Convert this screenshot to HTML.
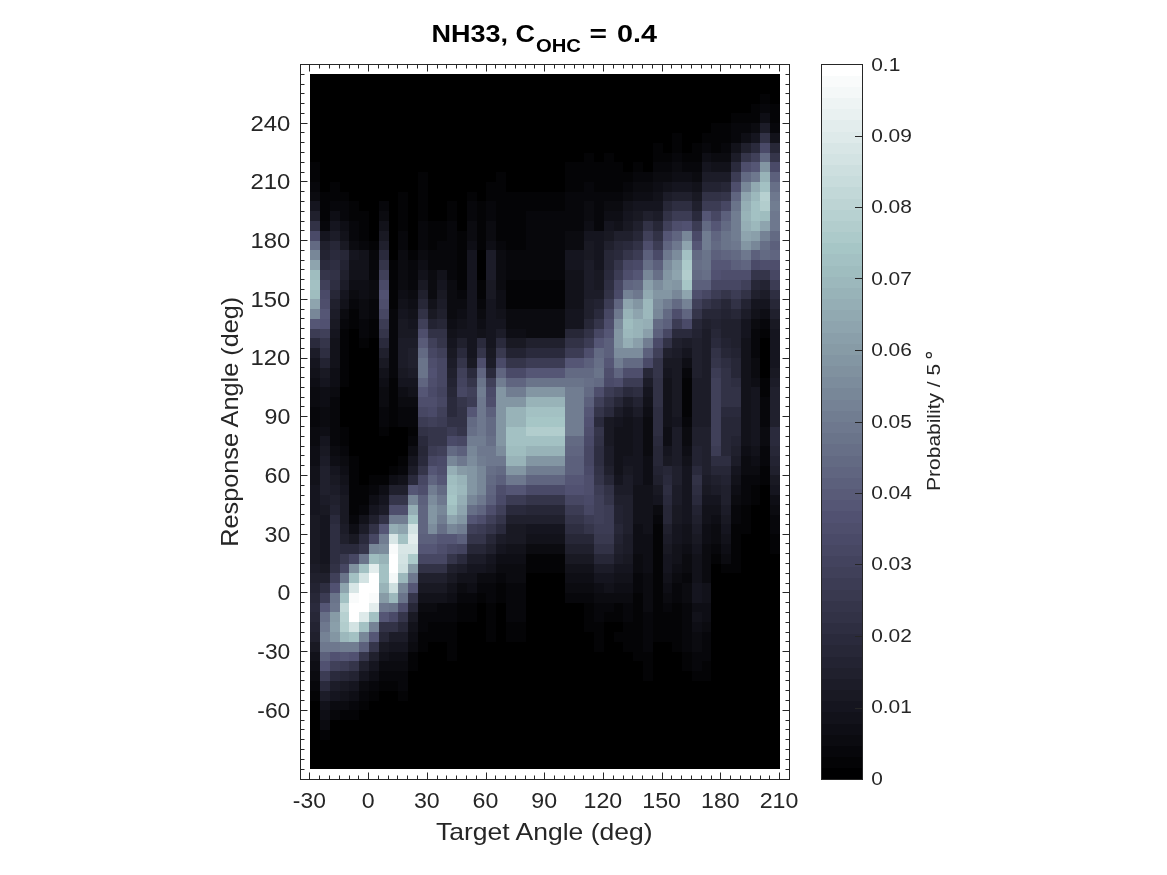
<!DOCTYPE html><html><head><meta charset="utf-8"><style>html,body{margin:0;padding:0;background:#fff;width:1167px;height:875px;overflow:hidden}</style></head><body><svg width="1167" height="875" viewBox="0 0 1167 875" style="position:absolute;left:0;top:0;will-change:transform">
<rect x="0" y="0" width="1167" height="875" fill="#ffffff"/>
<g shape-rendering="crispEdges">
<rect x="310.29" y="74.28" width="469.68" height="694.74" fill="#000000"/>
<rect x="760.39" y="93.86" width="9.79" height="9.78" fill="#040406"/>
<rect x="750.61" y="103.64" width="9.78" height="9.79" fill="#040406"/>
<rect x="760.39" y="103.64" width="9.79" height="9.79" fill="#07070b"/>
<rect x="770.18" y="103.64" width="9.78" height="9.79" fill="#040406"/>
<rect x="731.04" y="113.43" width="29.36" height="9.78" fill="#040406"/>
<rect x="760.39" y="113.43" width="9.79" height="9.78" fill="#0e0e15"/>
<rect x="770.18" y="113.43" width="9.78" height="9.78" fill="#040406"/>
<rect x="711.47" y="123.21" width="19.57" height="9.78" fill="#040406"/>
<rect x="731.04" y="123.21" width="19.57" height="9.78" fill="#07070b"/>
<rect x="750.61" y="123.21" width="9.78" height="9.78" fill="#0b0b10"/>
<rect x="760.39" y="123.21" width="9.79" height="9.78" fill="#1c1c28"/>
<rect x="770.18" y="123.21" width="9.78" height="9.78" fill="#07070b"/>
<rect x="672.33" y="133.00" width="9.78" height="9.78" fill="#040406"/>
<rect x="701.68" y="133.00" width="29.36" height="9.78" fill="#040406"/>
<rect x="731.04" y="133.00" width="9.79" height="9.78" fill="#07070b"/>
<rect x="740.83" y="133.00" width="9.78" height="9.78" fill="#0e0e15"/>
<rect x="750.61" y="133.00" width="9.78" height="9.78" fill="#15151f"/>
<rect x="760.39" y="133.00" width="9.79" height="9.78" fill="#323246"/>
<rect x="770.18" y="133.00" width="9.78" height="9.78" fill="#12121a"/>
<rect x="652.76" y="142.78" width="9.79" height="9.78" fill="#040406"/>
<rect x="672.33" y="142.78" width="9.78" height="9.78" fill="#040406"/>
<rect x="691.90" y="142.78" width="9.78" height="9.78" fill="#040406"/>
<rect x="701.68" y="142.78" width="9.79" height="9.78" fill="#07070b"/>
<rect x="711.47" y="142.78" width="9.78" height="9.78" fill="#040406"/>
<rect x="721.25" y="142.78" width="9.78" height="9.78" fill="#07070b"/>
<rect x="731.04" y="142.78" width="9.79" height="9.78" fill="#12121a"/>
<rect x="740.83" y="142.78" width="9.78" height="9.78" fill="#20202d"/>
<rect x="750.61" y="142.78" width="9.78" height="9.78" fill="#2a2a3c"/>
<rect x="760.39" y="142.78" width="9.79" height="9.78" fill="#4a4a68"/>
<rect x="770.18" y="142.78" width="9.78" height="9.78" fill="#272737"/>
<rect x="584.26" y="152.56" width="9.78" height="9.79" fill="#040406"/>
<rect x="603.84" y="152.56" width="9.78" height="9.79" fill="#040406"/>
<rect x="652.76" y="152.56" width="19.57" height="9.79" fill="#040406"/>
<rect x="672.33" y="152.56" width="9.78" height="9.79" fill="#07070b"/>
<rect x="682.12" y="152.56" width="19.57" height="9.79" fill="#040406"/>
<rect x="701.68" y="152.56" width="9.79" height="9.79" fill="#0e0e15"/>
<rect x="711.47" y="152.56" width="19.57" height="9.79" fill="#0b0b10"/>
<rect x="731.04" y="152.56" width="9.79" height="9.79" fill="#1c1c28"/>
<rect x="740.83" y="152.56" width="9.78" height="9.79" fill="#35354a"/>
<rect x="750.61" y="152.56" width="9.78" height="9.79" fill="#404059"/>
<rect x="760.39" y="152.56" width="9.79" height="9.79" fill="#636a83"/>
<rect x="770.18" y="152.56" width="9.78" height="9.79" fill="#35354a"/>
<rect x="310.29" y="162.35" width="9.78" height="9.78" fill="#040406"/>
<rect x="564.69" y="162.35" width="58.71" height="9.78" fill="#040406"/>
<rect x="633.19" y="162.35" width="9.78" height="9.78" fill="#040406"/>
<rect x="652.76" y="162.35" width="19.57" height="9.78" fill="#07070b"/>
<rect x="672.33" y="162.35" width="9.78" height="9.78" fill="#0b0b10"/>
<rect x="682.12" y="162.35" width="19.57" height="9.78" fill="#07070b"/>
<rect x="701.68" y="162.35" width="9.79" height="9.78" fill="#15151f"/>
<rect x="711.47" y="162.35" width="19.57" height="9.78" fill="#12121a"/>
<rect x="731.04" y="162.35" width="9.79" height="9.78" fill="#2a2a3c"/>
<rect x="740.83" y="162.35" width="9.78" height="9.78" fill="#4e4e6c"/>
<rect x="750.61" y="162.35" width="9.78" height="9.78" fill="#555675"/>
<rect x="760.39" y="162.35" width="9.79" height="9.78" fill="#8396a3"/>
<rect x="770.18" y="162.35" width="9.78" height="9.78" fill="#4a4a68"/>
<rect x="310.29" y="172.13" width="9.78" height="9.79" fill="#040406"/>
<rect x="417.92" y="172.13" width="9.78" height="9.79" fill="#040406"/>
<rect x="496.20" y="172.13" width="9.78" height="9.79" fill="#040406"/>
<rect x="564.69" y="172.13" width="68.50" height="9.79" fill="#040406"/>
<rect x="633.19" y="172.13" width="19.57" height="9.79" fill="#07070b"/>
<rect x="652.76" y="172.13" width="19.57" height="9.79" fill="#0b0b10"/>
<rect x="672.33" y="172.13" width="19.57" height="9.79" fill="#0e0e15"/>
<rect x="691.90" y="172.13" width="9.78" height="9.79" fill="#0b0b10"/>
<rect x="701.68" y="172.13" width="29.36" height="9.79" fill="#1c1c28"/>
<rect x="731.04" y="172.13" width="9.79" height="9.79" fill="#3c3c54"/>
<rect x="740.83" y="172.13" width="9.78" height="9.79" fill="#636a83"/>
<rect x="750.61" y="172.13" width="9.78" height="9.79" fill="#6e788e"/>
<rect x="760.39" y="172.13" width="9.79" height="9.79" fill="#98b3b8"/>
<rect x="770.18" y="172.13" width="9.78" height="9.79" fill="#5c607c"/>
<rect x="310.29" y="181.92" width="9.78" height="9.78" fill="#07070b"/>
<rect x="329.86" y="181.92" width="9.78" height="9.78" fill="#040406"/>
<rect x="417.92" y="181.92" width="9.78" height="9.78" fill="#040406"/>
<rect x="486.42" y="181.92" width="19.57" height="9.78" fill="#040406"/>
<rect x="564.69" y="181.92" width="19.57" height="9.78" fill="#040406"/>
<rect x="584.26" y="181.92" width="9.78" height="9.78" fill="#07070b"/>
<rect x="594.05" y="181.92" width="29.36" height="9.78" fill="#040406"/>
<rect x="623.40" y="181.92" width="9.79" height="9.78" fill="#07070b"/>
<rect x="633.19" y="181.92" width="19.57" height="9.78" fill="#0b0b10"/>
<rect x="652.76" y="181.92" width="9.79" height="9.78" fill="#0e0e15"/>
<rect x="662.55" y="181.92" width="9.78" height="9.78" fill="#12121a"/>
<rect x="672.33" y="181.92" width="19.57" height="9.78" fill="#15151f"/>
<rect x="691.90" y="181.92" width="9.78" height="9.78" fill="#12121a"/>
<rect x="701.68" y="181.92" width="19.57" height="9.78" fill="#232332"/>
<rect x="721.25" y="181.92" width="9.78" height="9.78" fill="#272737"/>
<rect x="731.04" y="181.92" width="9.79" height="9.78" fill="#4e4e6c"/>
<rect x="740.83" y="181.92" width="9.78" height="9.78" fill="#788798"/>
<rect x="750.61" y="181.92" width="9.78" height="9.78" fill="#91a9b1"/>
<rect x="760.39" y="181.92" width="9.79" height="9.78" fill="#a3c1c3"/>
<rect x="770.18" y="181.92" width="9.78" height="9.78" fill="#676f87"/>
<rect x="310.29" y="191.70" width="9.78" height="9.79" fill="#0b0b10"/>
<rect x="320.07" y="191.70" width="29.36" height="9.79" fill="#040406"/>
<rect x="398.35" y="191.70" width="9.78" height="9.79" fill="#040406"/>
<rect x="417.92" y="191.70" width="9.78" height="9.79" fill="#040406"/>
<rect x="466.85" y="191.70" width="9.78" height="9.79" fill="#040406"/>
<rect x="486.42" y="191.70" width="78.28" height="9.79" fill="#040406"/>
<rect x="564.69" y="191.70" width="58.71" height="9.79" fill="#07070b"/>
<rect x="623.40" y="191.70" width="9.79" height="9.79" fill="#0b0b10"/>
<rect x="633.19" y="191.70" width="19.57" height="9.79" fill="#0e0e15"/>
<rect x="652.76" y="191.70" width="9.79" height="9.79" fill="#12121a"/>
<rect x="662.55" y="191.70" width="9.78" height="9.79" fill="#1c1c28"/>
<rect x="672.33" y="191.70" width="19.57" height="9.79" fill="#20202d"/>
<rect x="691.90" y="191.70" width="9.78" height="9.79" fill="#191923"/>
<rect x="701.68" y="191.70" width="19.57" height="9.79" fill="#323246"/>
<rect x="721.25" y="191.70" width="9.78" height="9.79" fill="#35354a"/>
<rect x="731.04" y="191.70" width="9.79" height="9.79" fill="#606580"/>
<rect x="740.83" y="191.70" width="9.78" height="9.79" fill="#8ea4ae"/>
<rect x="750.61" y="191.70" width="9.78" height="9.79" fill="#9cb8bc"/>
<rect x="760.39" y="191.70" width="9.79" height="9.79" fill="#b7d1d1"/>
<rect x="770.18" y="191.70" width="9.78" height="9.79" fill="#6e788e"/>
<rect x="310.29" y="201.49" width="9.78" height="9.78" fill="#15151f"/>
<rect x="320.07" y="201.49" width="9.79" height="9.78" fill="#040406"/>
<rect x="329.86" y="201.49" width="19.57" height="9.78" fill="#07070b"/>
<rect x="349.43" y="201.49" width="9.78" height="9.78" fill="#040406"/>
<rect x="378.78" y="201.49" width="9.79" height="9.78" fill="#07070b"/>
<rect x="398.35" y="201.49" width="9.78" height="9.78" fill="#040406"/>
<rect x="417.92" y="201.49" width="9.78" height="9.78" fill="#040406"/>
<rect x="447.27" y="201.49" width="9.79" height="9.78" fill="#040406"/>
<rect x="466.85" y="201.49" width="9.78" height="9.78" fill="#07070b"/>
<rect x="476.63" y="201.49" width="9.79" height="9.78" fill="#040406"/>
<rect x="486.42" y="201.49" width="9.79" height="9.78" fill="#07070b"/>
<rect x="496.20" y="201.49" width="68.49" height="9.78" fill="#040406"/>
<rect x="564.69" y="201.49" width="19.57" height="9.78" fill="#07070b"/>
<rect x="584.26" y="201.49" width="9.78" height="9.78" fill="#0b0b10"/>
<rect x="594.05" y="201.49" width="9.79" height="9.78" fill="#07070b"/>
<rect x="603.84" y="201.49" width="19.57" height="9.78" fill="#0b0b10"/>
<rect x="623.40" y="201.49" width="9.79" height="9.78" fill="#12121a"/>
<rect x="633.19" y="201.49" width="29.36" height="9.78" fill="#15151f"/>
<rect x="662.55" y="201.49" width="9.78" height="9.78" fill="#272737"/>
<rect x="672.33" y="201.49" width="19.57" height="9.78" fill="#2e2e41"/>
<rect x="691.90" y="201.49" width="9.78" height="9.78" fill="#20202d"/>
<rect x="701.68" y="201.49" width="19.57" height="9.78" fill="#3c3c54"/>
<rect x="721.25" y="201.49" width="9.78" height="9.78" fill="#474763"/>
<rect x="731.04" y="201.49" width="9.79" height="9.78" fill="#6a748a"/>
<rect x="740.83" y="201.49" width="9.78" height="9.78" fill="#95aeb5"/>
<rect x="750.61" y="201.49" width="9.78" height="9.78" fill="#a3c1c3"/>
<rect x="760.39" y="201.49" width="9.79" height="9.78" fill="#b2cdcd"/>
<rect x="770.18" y="201.49" width="9.78" height="9.78" fill="#717d91"/>
<rect x="310.29" y="211.28" width="9.78" height="9.78" fill="#20202d"/>
<rect x="320.07" y="211.28" width="9.79" height="9.78" fill="#040406"/>
<rect x="329.86" y="211.28" width="9.78" height="9.78" fill="#0e0e15"/>
<rect x="339.64" y="211.28" width="9.79" height="9.78" fill="#07070b"/>
<rect x="349.43" y="211.28" width="19.57" height="9.78" fill="#040406"/>
<rect x="378.78" y="211.28" width="9.79" height="9.78" fill="#0b0b10"/>
<rect x="398.35" y="211.28" width="9.78" height="9.78" fill="#040406"/>
<rect x="417.92" y="211.28" width="9.78" height="9.78" fill="#040406"/>
<rect x="447.27" y="211.28" width="9.79" height="9.78" fill="#040406"/>
<rect x="466.85" y="211.28" width="9.78" height="9.78" fill="#07070b"/>
<rect x="476.63" y="211.28" width="9.79" height="9.78" fill="#040406"/>
<rect x="486.42" y="211.28" width="9.79" height="9.78" fill="#07070b"/>
<rect x="496.20" y="211.28" width="29.36" height="9.78" fill="#040406"/>
<rect x="525.56" y="211.28" width="58.71" height="9.78" fill="#07070b"/>
<rect x="584.26" y="211.28" width="9.78" height="9.78" fill="#0b0b10"/>
<rect x="594.05" y="211.28" width="9.79" height="9.78" fill="#07070b"/>
<rect x="603.84" y="211.28" width="19.57" height="9.78" fill="#0e0e15"/>
<rect x="623.40" y="211.28" width="9.79" height="9.78" fill="#15151f"/>
<rect x="633.19" y="211.28" width="9.78" height="9.78" fill="#191923"/>
<rect x="642.98" y="211.28" width="9.78" height="9.78" fill="#20202d"/>
<rect x="652.76" y="211.28" width="9.79" height="9.78" fill="#1c1c28"/>
<rect x="662.55" y="211.28" width="9.78" height="9.78" fill="#323246"/>
<rect x="672.33" y="211.28" width="19.57" height="9.78" fill="#3c3c54"/>
<rect x="691.90" y="211.28" width="9.78" height="9.78" fill="#2a2a3c"/>
<rect x="701.68" y="211.28" width="9.79" height="9.78" fill="#555675"/>
<rect x="711.47" y="211.28" width="9.78" height="9.78" fill="#474763"/>
<rect x="721.25" y="211.28" width="9.78" height="9.78" fill="#5c607c"/>
<rect x="731.04" y="211.28" width="9.79" height="9.78" fill="#717d91"/>
<rect x="740.83" y="211.28" width="9.78" height="9.78" fill="#98b3b8"/>
<rect x="750.61" y="211.28" width="9.78" height="9.78" fill="#a3c1c3"/>
<rect x="760.39" y="211.28" width="9.79" height="9.78" fill="#9fbdbf"/>
<rect x="770.18" y="211.28" width="9.78" height="9.78" fill="#6e788e"/>
<rect x="310.29" y="221.06" width="9.78" height="9.78" fill="#323246"/>
<rect x="320.07" y="221.06" width="9.79" height="9.78" fill="#07070b"/>
<rect x="329.86" y="221.06" width="9.78" height="9.78" fill="#15151f"/>
<rect x="339.64" y="221.06" width="9.79" height="9.78" fill="#0e0e15"/>
<rect x="349.43" y="221.06" width="9.78" height="9.78" fill="#07070b"/>
<rect x="359.21" y="221.06" width="9.79" height="9.78" fill="#040406"/>
<rect x="378.78" y="221.06" width="9.79" height="9.78" fill="#12121a"/>
<rect x="398.35" y="221.06" width="9.78" height="9.78" fill="#040406"/>
<rect x="417.92" y="221.06" width="9.78" height="9.78" fill="#07070b"/>
<rect x="427.70" y="221.06" width="19.57" height="9.78" fill="#040406"/>
<rect x="447.27" y="221.06" width="9.79" height="9.78" fill="#07070b"/>
<rect x="466.85" y="221.06" width="9.78" height="9.78" fill="#0b0b10"/>
<rect x="476.63" y="221.06" width="9.79" height="9.78" fill="#040406"/>
<rect x="486.42" y="221.06" width="9.79" height="9.78" fill="#0b0b10"/>
<rect x="496.20" y="221.06" width="29.36" height="9.78" fill="#040406"/>
<rect x="525.56" y="221.06" width="58.71" height="9.78" fill="#07070b"/>
<rect x="584.26" y="221.06" width="9.78" height="9.78" fill="#0e0e15"/>
<rect x="594.05" y="221.06" width="9.79" height="9.78" fill="#07070b"/>
<rect x="603.84" y="221.06" width="9.78" height="9.78" fill="#15151f"/>
<rect x="613.62" y="221.06" width="9.78" height="9.78" fill="#12121a"/>
<rect x="623.40" y="221.06" width="9.79" height="9.78" fill="#191923"/>
<rect x="633.19" y="221.06" width="9.78" height="9.78" fill="#20202d"/>
<rect x="642.98" y="221.06" width="9.78" height="9.78" fill="#323246"/>
<rect x="652.76" y="221.06" width="9.79" height="9.78" fill="#272737"/>
<rect x="662.55" y="221.06" width="9.78" height="9.78" fill="#404059"/>
<rect x="672.33" y="221.06" width="9.78" height="9.78" fill="#4e4e6c"/>
<rect x="682.12" y="221.06" width="9.79" height="9.78" fill="#515171"/>
<rect x="691.90" y="221.06" width="9.78" height="9.78" fill="#3c3c54"/>
<rect x="701.68" y="221.06" width="9.79" height="9.78" fill="#636a83"/>
<rect x="711.47" y="221.06" width="9.78" height="9.78" fill="#555675"/>
<rect x="721.25" y="221.06" width="9.78" height="9.78" fill="#636a83"/>
<rect x="731.04" y="221.06" width="9.79" height="9.78" fill="#717d91"/>
<rect x="740.83" y="221.06" width="9.78" height="9.78" fill="#95aeb5"/>
<rect x="750.61" y="221.06" width="9.78" height="9.78" fill="#9cb8bc"/>
<rect x="760.39" y="221.06" width="9.79" height="9.78" fill="#8ea4ae"/>
<rect x="770.18" y="221.06" width="9.78" height="9.78" fill="#6e788e"/>
<rect x="310.29" y="230.84" width="9.78" height="9.78" fill="#4a4a68"/>
<rect x="320.07" y="230.84" width="9.79" height="9.78" fill="#15151f"/>
<rect x="329.86" y="230.84" width="9.78" height="9.78" fill="#1c1c28"/>
<rect x="339.64" y="230.84" width="9.79" height="9.78" fill="#12121a"/>
<rect x="349.43" y="230.84" width="9.78" height="9.78" fill="#07070b"/>
<rect x="359.21" y="230.84" width="9.79" height="9.78" fill="#040406"/>
<rect x="378.78" y="230.84" width="9.79" height="9.78" fill="#191923"/>
<rect x="398.35" y="230.84" width="9.78" height="9.78" fill="#07070b"/>
<rect x="417.92" y="230.84" width="9.78" height="9.78" fill="#07070b"/>
<rect x="427.70" y="230.84" width="19.57" height="9.78" fill="#040406"/>
<rect x="447.27" y="230.84" width="9.79" height="9.78" fill="#07070b"/>
<rect x="457.06" y="230.84" width="9.79" height="9.78" fill="#040406"/>
<rect x="466.85" y="230.84" width="9.78" height="9.78" fill="#0b0b10"/>
<rect x="476.63" y="230.84" width="9.79" height="9.78" fill="#040406"/>
<rect x="486.42" y="230.84" width="9.79" height="9.78" fill="#0b0b10"/>
<rect x="496.20" y="230.84" width="29.36" height="9.78" fill="#040406"/>
<rect x="525.56" y="230.84" width="39.14" height="9.78" fill="#07070b"/>
<rect x="564.69" y="230.84" width="19.57" height="9.78" fill="#0b0b10"/>
<rect x="584.26" y="230.84" width="19.57" height="9.78" fill="#15151f"/>
<rect x="603.84" y="230.84" width="9.78" height="9.78" fill="#191923"/>
<rect x="613.62" y="230.84" width="19.57" height="9.78" fill="#20202d"/>
<rect x="633.19" y="230.84" width="9.78" height="9.78" fill="#272737"/>
<rect x="642.98" y="230.84" width="9.78" height="9.78" fill="#404059"/>
<rect x="652.76" y="230.84" width="9.79" height="9.78" fill="#323246"/>
<rect x="662.55" y="230.84" width="9.78" height="9.78" fill="#555675"/>
<rect x="672.33" y="230.84" width="9.78" height="9.78" fill="#606580"/>
<rect x="682.12" y="230.84" width="9.79" height="9.78" fill="#788798"/>
<rect x="691.90" y="230.84" width="9.78" height="9.78" fill="#4a4a68"/>
<rect x="701.68" y="230.84" width="9.79" height="9.78" fill="#717d91"/>
<rect x="711.47" y="230.84" width="9.78" height="9.78" fill="#606580"/>
<rect x="721.25" y="230.84" width="9.78" height="9.78" fill="#6a748a"/>
<rect x="731.04" y="230.84" width="9.79" height="9.78" fill="#717d91"/>
<rect x="740.83" y="230.84" width="9.78" height="9.78" fill="#8ea4ae"/>
<rect x="750.61" y="230.84" width="9.78" height="9.78" fill="#8a9faa"/>
<rect x="760.39" y="230.84" width="9.79" height="9.78" fill="#758295"/>
<rect x="770.18" y="230.84" width="9.78" height="9.78" fill="#636a83"/>
<rect x="310.29" y="240.63" width="9.78" height="9.79" fill="#636a83"/>
<rect x="320.07" y="240.63" width="9.79" height="9.79" fill="#20202d"/>
<rect x="329.86" y="240.63" width="9.78" height="9.79" fill="#272737"/>
<rect x="339.64" y="240.63" width="9.79" height="9.79" fill="#191923"/>
<rect x="349.43" y="240.63" width="9.78" height="9.79" fill="#0b0b10"/>
<rect x="359.21" y="240.63" width="9.79" height="9.79" fill="#07070b"/>
<rect x="369.00" y="240.63" width="9.78" height="9.79" fill="#040406"/>
<rect x="378.78" y="240.63" width="9.79" height="9.79" fill="#20202d"/>
<rect x="398.35" y="240.63" width="9.78" height="9.79" fill="#07070b"/>
<rect x="417.92" y="240.63" width="9.78" height="9.79" fill="#07070b"/>
<rect x="427.70" y="240.63" width="9.79" height="9.79" fill="#040406"/>
<rect x="437.49" y="240.63" width="19.57" height="9.79" fill="#07070b"/>
<rect x="457.06" y="240.63" width="9.79" height="9.79" fill="#040406"/>
<rect x="466.85" y="240.63" width="9.78" height="9.79" fill="#0e0e15"/>
<rect x="476.63" y="240.63" width="9.79" height="9.79" fill="#040406"/>
<rect x="486.42" y="240.63" width="9.79" height="9.79" fill="#0e0e15"/>
<rect x="496.20" y="240.63" width="9.78" height="9.79" fill="#07070b"/>
<rect x="505.99" y="240.63" width="19.57" height="9.79" fill="#040406"/>
<rect x="525.56" y="240.63" width="39.14" height="9.79" fill="#07070b"/>
<rect x="564.69" y="240.63" width="19.57" height="9.79" fill="#0b0b10"/>
<rect x="584.26" y="240.63" width="9.78" height="9.79" fill="#191923"/>
<rect x="594.05" y="240.63" width="9.79" height="9.79" fill="#15151f"/>
<rect x="603.84" y="240.63" width="9.78" height="9.79" fill="#20202d"/>
<rect x="613.62" y="240.63" width="9.78" height="9.79" fill="#272737"/>
<rect x="623.40" y="240.63" width="9.79" height="9.79" fill="#2a2a3c"/>
<rect x="633.19" y="240.63" width="9.78" height="9.79" fill="#323246"/>
<rect x="642.98" y="240.63" width="9.78" height="9.79" fill="#4e4e6c"/>
<rect x="652.76" y="240.63" width="9.79" height="9.79" fill="#3c3c54"/>
<rect x="662.55" y="240.63" width="9.78" height="9.79" fill="#606580"/>
<rect x="672.33" y="240.63" width="9.78" height="9.79" fill="#6e788e"/>
<rect x="682.12" y="240.63" width="9.79" height="9.79" fill="#8ea4ae"/>
<rect x="691.90" y="240.63" width="9.78" height="9.79" fill="#555675"/>
<rect x="701.68" y="240.63" width="9.79" height="9.79" fill="#717d91"/>
<rect x="711.47" y="240.63" width="9.78" height="9.79" fill="#636a83"/>
<rect x="721.25" y="240.63" width="9.78" height="9.79" fill="#6a748a"/>
<rect x="731.04" y="240.63" width="9.79" height="9.79" fill="#6e788e"/>
<rect x="740.83" y="240.63" width="9.78" height="9.79" fill="#8396a3"/>
<rect x="750.61" y="240.63" width="9.78" height="9.79" fill="#788798"/>
<rect x="760.39" y="240.63" width="9.79" height="9.79" fill="#676f87"/>
<rect x="770.18" y="240.63" width="9.78" height="9.79" fill="#5c607c"/>
<rect x="310.29" y="250.42" width="9.78" height="9.79" fill="#788798"/>
<rect x="320.07" y="250.42" width="9.79" height="9.79" fill="#232332"/>
<rect x="329.86" y="250.42" width="9.78" height="9.79" fill="#2a2a3c"/>
<rect x="339.64" y="250.42" width="9.79" height="9.79" fill="#272737"/>
<rect x="349.43" y="250.42" width="9.78" height="9.79" fill="#15151f"/>
<rect x="359.21" y="250.42" width="9.79" height="9.79" fill="#12121a"/>
<rect x="369.00" y="250.42" width="9.78" height="9.79" fill="#07070b"/>
<rect x="378.78" y="250.42" width="9.79" height="9.79" fill="#2a2a3c"/>
<rect x="398.35" y="250.42" width="9.78" height="9.79" fill="#0b0b10"/>
<rect x="408.13" y="250.42" width="9.79" height="9.79" fill="#040406"/>
<rect x="417.92" y="250.42" width="9.78" height="9.79" fill="#0b0b10"/>
<rect x="427.70" y="250.42" width="29.36" height="9.79" fill="#07070b"/>
<rect x="457.06" y="250.42" width="9.79" height="9.79" fill="#040406"/>
<rect x="466.85" y="250.42" width="9.78" height="9.79" fill="#15151f"/>
<rect x="486.42" y="250.42" width="9.79" height="9.79" fill="#1c1c28"/>
<rect x="496.20" y="250.42" width="9.78" height="9.79" fill="#0b0b10"/>
<rect x="505.99" y="250.42" width="58.71" height="9.79" fill="#07070b"/>
<rect x="564.69" y="250.42" width="19.57" height="9.79" fill="#15151f"/>
<rect x="584.26" y="250.42" width="9.78" height="9.79" fill="#191923"/>
<rect x="594.05" y="250.42" width="9.79" height="9.79" fill="#15151f"/>
<rect x="603.84" y="250.42" width="9.78" height="9.79" fill="#272737"/>
<rect x="613.62" y="250.42" width="9.78" height="9.79" fill="#2a2a3c"/>
<rect x="623.40" y="250.42" width="9.79" height="9.79" fill="#35354a"/>
<rect x="633.19" y="250.42" width="9.78" height="9.79" fill="#3c3c54"/>
<rect x="642.98" y="250.42" width="9.78" height="9.79" fill="#5c607c"/>
<rect x="652.76" y="250.42" width="9.79" height="9.79" fill="#4a4a68"/>
<rect x="662.55" y="250.42" width="9.78" height="9.79" fill="#6e788e"/>
<rect x="672.33" y="250.42" width="9.78" height="9.79" fill="#7c8c9c"/>
<rect x="682.12" y="250.42" width="9.79" height="9.79" fill="#a3c1c3"/>
<rect x="691.90" y="250.42" width="9.78" height="9.79" fill="#636a83"/>
<rect x="701.68" y="250.42" width="9.79" height="9.79" fill="#6a748a"/>
<rect x="711.47" y="250.42" width="9.78" height="9.79" fill="#5c607c"/>
<rect x="721.25" y="250.42" width="9.78" height="9.79" fill="#606580"/>
<rect x="731.04" y="250.42" width="9.79" height="9.79" fill="#636a83"/>
<rect x="740.83" y="250.42" width="9.78" height="9.79" fill="#6e788e"/>
<rect x="750.61" y="250.42" width="9.78" height="9.79" fill="#5c607c"/>
<rect x="760.39" y="250.42" width="9.79" height="9.79" fill="#636a83"/>
<rect x="770.18" y="250.42" width="9.78" height="9.79" fill="#606580"/>
<rect x="310.29" y="260.20" width="9.78" height="9.78" fill="#8ea4ae"/>
<rect x="320.07" y="260.20" width="9.79" height="9.78" fill="#2a2a3c"/>
<rect x="329.86" y="260.20" width="9.78" height="9.78" fill="#2e2e41"/>
<rect x="339.64" y="260.20" width="9.79" height="9.78" fill="#232332"/>
<rect x="349.43" y="260.20" width="19.57" height="9.78" fill="#12121a"/>
<rect x="369.00" y="260.20" width="9.78" height="9.78" fill="#07070b"/>
<rect x="378.78" y="260.20" width="9.79" height="9.78" fill="#35354a"/>
<rect x="388.56" y="260.20" width="9.79" height="9.78" fill="#040406"/>
<rect x="398.35" y="260.20" width="9.78" height="9.78" fill="#0b0b10"/>
<rect x="408.13" y="260.20" width="9.79" height="9.78" fill="#07070b"/>
<rect x="417.92" y="260.20" width="9.78" height="9.78" fill="#0e0e15"/>
<rect x="427.70" y="260.20" width="29.36" height="9.78" fill="#07070b"/>
<rect x="457.06" y="260.20" width="9.79" height="9.78" fill="#040406"/>
<rect x="466.85" y="260.20" width="9.78" height="9.78" fill="#15151f"/>
<rect x="486.42" y="260.20" width="9.79" height="9.78" fill="#1c1c28"/>
<rect x="496.20" y="260.20" width="9.78" height="9.78" fill="#0b0b10"/>
<rect x="505.99" y="260.20" width="58.71" height="9.78" fill="#07070b"/>
<rect x="564.69" y="260.20" width="19.57" height="9.78" fill="#15151f"/>
<rect x="584.26" y="260.20" width="9.78" height="9.78" fill="#1c1c28"/>
<rect x="594.05" y="260.20" width="9.79" height="9.78" fill="#15151f"/>
<rect x="603.84" y="260.20" width="9.78" height="9.78" fill="#272737"/>
<rect x="613.62" y="260.20" width="9.78" height="9.78" fill="#35354a"/>
<rect x="623.40" y="260.20" width="9.79" height="9.78" fill="#474763"/>
<rect x="633.19" y="260.20" width="9.78" height="9.78" fill="#4a4a68"/>
<rect x="642.98" y="260.20" width="9.78" height="9.78" fill="#676f87"/>
<rect x="652.76" y="260.20" width="9.79" height="9.78" fill="#5c607c"/>
<rect x="662.55" y="260.20" width="9.78" height="9.78" fill="#7c8c9c"/>
<rect x="672.33" y="260.20" width="9.78" height="9.78" fill="#8a9faa"/>
<rect x="682.12" y="260.20" width="9.79" height="9.78" fill="#accaca"/>
<rect x="691.90" y="260.20" width="9.78" height="9.78" fill="#676f87"/>
<rect x="701.68" y="260.20" width="9.79" height="9.78" fill="#6a748a"/>
<rect x="711.47" y="260.20" width="19.57" height="9.78" fill="#555675"/>
<rect x="731.04" y="260.20" width="9.79" height="9.78" fill="#5c607c"/>
<rect x="740.83" y="260.20" width="9.78" height="9.78" fill="#606580"/>
<rect x="750.61" y="260.20" width="9.78" height="9.78" fill="#4a4a68"/>
<rect x="760.39" y="260.20" width="19.57" height="9.78" fill="#4e4e6c"/>
<rect x="310.29" y="269.99" width="9.78" height="9.78" fill="#9fbdbf"/>
<rect x="320.07" y="269.99" width="9.79" height="9.78" fill="#35354a"/>
<rect x="329.86" y="269.99" width="9.78" height="9.78" fill="#323246"/>
<rect x="339.64" y="269.99" width="9.79" height="9.78" fill="#20202d"/>
<rect x="349.43" y="269.99" width="19.57" height="9.78" fill="#12121a"/>
<rect x="369.00" y="269.99" width="9.78" height="9.78" fill="#07070b"/>
<rect x="378.78" y="269.99" width="9.79" height="9.78" fill="#404059"/>
<rect x="388.56" y="269.99" width="9.79" height="9.78" fill="#040406"/>
<rect x="398.35" y="269.99" width="9.78" height="9.78" fill="#0b0b10"/>
<rect x="408.13" y="269.99" width="9.79" height="9.78" fill="#07070b"/>
<rect x="417.92" y="269.99" width="9.78" height="9.78" fill="#12121a"/>
<rect x="427.70" y="269.99" width="9.79" height="9.78" fill="#0b0b10"/>
<rect x="437.49" y="269.99" width="9.78" height="9.78" fill="#12121a"/>
<rect x="447.27" y="269.99" width="9.79" height="9.78" fill="#07070b"/>
<rect x="457.06" y="269.99" width="9.79" height="9.78" fill="#040406"/>
<rect x="466.85" y="269.99" width="9.78" height="9.78" fill="#15151f"/>
<rect x="486.42" y="269.99" width="9.79" height="9.78" fill="#1c1c28"/>
<rect x="496.20" y="269.99" width="9.78" height="9.78" fill="#0b0b10"/>
<rect x="505.99" y="269.99" width="58.71" height="9.78" fill="#07070b"/>
<rect x="564.69" y="269.99" width="19.57" height="9.78" fill="#12121a"/>
<rect x="584.26" y="269.99" width="9.78" height="9.78" fill="#1c1c28"/>
<rect x="594.05" y="269.99" width="9.79" height="9.78" fill="#191923"/>
<rect x="603.84" y="269.99" width="9.78" height="9.78" fill="#2a2a3c"/>
<rect x="613.62" y="269.99" width="9.78" height="9.78" fill="#3c3c54"/>
<rect x="623.40" y="269.99" width="9.79" height="9.78" fill="#4e4e6c"/>
<rect x="633.19" y="269.99" width="9.78" height="9.78" fill="#555675"/>
<rect x="642.98" y="269.99" width="9.78" height="9.78" fill="#788798"/>
<rect x="652.76" y="269.99" width="9.79" height="9.78" fill="#676f87"/>
<rect x="662.55" y="269.99" width="9.78" height="9.78" fill="#8396a3"/>
<rect x="672.33" y="269.99" width="9.78" height="9.78" fill="#8ea4ae"/>
<rect x="682.12" y="269.99" width="9.79" height="9.78" fill="#b2cdcd"/>
<rect x="691.90" y="269.99" width="9.78" height="9.78" fill="#636a83"/>
<rect x="701.68" y="269.99" width="9.79" height="9.78" fill="#676f87"/>
<rect x="711.47" y="269.99" width="9.78" height="9.78" fill="#515171"/>
<rect x="721.25" y="269.99" width="29.36" height="9.78" fill="#4e4e6c"/>
<rect x="750.61" y="269.99" width="19.57" height="9.78" fill="#35354a"/>
<rect x="770.18" y="269.99" width="9.78" height="9.78" fill="#474763"/>
<rect x="310.29" y="279.77" width="9.78" height="9.79" fill="#a3c1c3"/>
<rect x="320.07" y="279.77" width="9.79" height="9.79" fill="#404059"/>
<rect x="329.86" y="279.77" width="9.78" height="9.79" fill="#2e2e41"/>
<rect x="339.64" y="279.77" width="9.79" height="9.79" fill="#1c1c28"/>
<rect x="349.43" y="279.77" width="19.57" height="9.79" fill="#0e0e15"/>
<rect x="369.00" y="279.77" width="9.78" height="9.79" fill="#0b0b10"/>
<rect x="378.78" y="279.77" width="9.79" height="9.79" fill="#4a4a68"/>
<rect x="388.56" y="279.77" width="9.79" height="9.79" fill="#040406"/>
<rect x="398.35" y="279.77" width="9.78" height="9.79" fill="#0b0b10"/>
<rect x="408.13" y="279.77" width="9.79" height="9.79" fill="#07070b"/>
<rect x="417.92" y="279.77" width="9.78" height="9.79" fill="#191923"/>
<rect x="427.70" y="279.77" width="9.79" height="9.79" fill="#0b0b10"/>
<rect x="437.49" y="279.77" width="9.78" height="9.79" fill="#15151f"/>
<rect x="447.27" y="279.77" width="9.79" height="9.79" fill="#0b0b10"/>
<rect x="457.06" y="279.77" width="9.79" height="9.79" fill="#040406"/>
<rect x="466.85" y="279.77" width="9.78" height="9.79" fill="#15151f"/>
<rect x="476.63" y="279.77" width="9.79" height="9.79" fill="#040406"/>
<rect x="486.42" y="279.77" width="9.79" height="9.79" fill="#191923"/>
<rect x="496.20" y="279.77" width="9.78" height="9.79" fill="#0b0b10"/>
<rect x="505.99" y="279.77" width="58.71" height="9.79" fill="#040406"/>
<rect x="564.69" y="279.77" width="19.57" height="9.79" fill="#12121a"/>
<rect x="584.26" y="279.77" width="9.78" height="9.79" fill="#1c1c28"/>
<rect x="594.05" y="279.77" width="9.79" height="9.79" fill="#191923"/>
<rect x="603.84" y="279.77" width="9.78" height="9.79" fill="#2e2e41"/>
<rect x="613.62" y="279.77" width="9.78" height="9.79" fill="#474763"/>
<rect x="623.40" y="279.77" width="9.79" height="9.79" fill="#606580"/>
<rect x="633.19" y="279.77" width="9.78" height="9.79" fill="#636a83"/>
<rect x="642.98" y="279.77" width="9.78" height="9.79" fill="#8a9faa"/>
<rect x="652.76" y="279.77" width="9.79" height="9.79" fill="#7c8c9c"/>
<rect x="662.55" y="279.77" width="9.78" height="9.79" fill="#879ba6"/>
<rect x="672.33" y="279.77" width="9.78" height="9.79" fill="#8396a3"/>
<rect x="682.12" y="279.77" width="9.79" height="9.79" fill="#a6c6c6"/>
<rect x="691.90" y="279.77" width="19.57" height="9.79" fill="#5c607c"/>
<rect x="711.47" y="279.77" width="29.36" height="9.79" fill="#474763"/>
<rect x="740.83" y="279.77" width="9.78" height="9.79" fill="#404059"/>
<rect x="750.61" y="279.77" width="9.78" height="9.79" fill="#272737"/>
<rect x="760.39" y="279.77" width="9.79" height="9.79" fill="#232332"/>
<rect x="770.18" y="279.77" width="9.78" height="9.79" fill="#3c3c54"/>
<rect x="310.29" y="289.56" width="9.78" height="9.79" fill="#9fbdbf"/>
<rect x="320.07" y="289.56" width="9.79" height="9.79" fill="#4a4a68"/>
<rect x="329.86" y="289.56" width="9.78" height="9.79" fill="#272737"/>
<rect x="339.64" y="289.56" width="9.79" height="9.79" fill="#15151f"/>
<rect x="349.43" y="289.56" width="9.78" height="9.79" fill="#0b0b10"/>
<rect x="359.21" y="289.56" width="9.79" height="9.79" fill="#0e0e15"/>
<rect x="369.00" y="289.56" width="9.78" height="9.79" fill="#0b0b10"/>
<rect x="378.78" y="289.56" width="9.79" height="9.79" fill="#515171"/>
<rect x="388.56" y="289.56" width="9.79" height="9.79" fill="#040406"/>
<rect x="398.35" y="289.56" width="9.78" height="9.79" fill="#0e0e15"/>
<rect x="408.13" y="289.56" width="9.79" height="9.79" fill="#0b0b10"/>
<rect x="417.92" y="289.56" width="9.78" height="9.79" fill="#20202d"/>
<rect x="427.70" y="289.56" width="9.79" height="9.79" fill="#0b0b10"/>
<rect x="437.49" y="289.56" width="9.78" height="9.79" fill="#191923"/>
<rect x="447.27" y="289.56" width="9.79" height="9.79" fill="#0b0b10"/>
<rect x="457.06" y="289.56" width="9.79" height="9.79" fill="#07070b"/>
<rect x="466.85" y="289.56" width="9.78" height="9.79" fill="#15151f"/>
<rect x="476.63" y="289.56" width="9.79" height="9.79" fill="#040406"/>
<rect x="486.42" y="289.56" width="9.79" height="9.79" fill="#191923"/>
<rect x="496.20" y="289.56" width="9.78" height="9.79" fill="#0e0e15"/>
<rect x="505.99" y="289.56" width="58.71" height="9.79" fill="#040406"/>
<rect x="564.69" y="289.56" width="19.57" height="9.79" fill="#12121a"/>
<rect x="584.26" y="289.56" width="19.57" height="9.79" fill="#1c1c28"/>
<rect x="603.84" y="289.56" width="9.78" height="9.79" fill="#323246"/>
<rect x="613.62" y="289.56" width="9.78" height="9.79" fill="#4a4a68"/>
<rect x="623.40" y="289.56" width="9.79" height="9.79" fill="#758295"/>
<rect x="633.19" y="289.56" width="9.78" height="9.79" fill="#6e788e"/>
<rect x="642.98" y="289.56" width="9.78" height="9.79" fill="#91a9b1"/>
<rect x="652.76" y="289.56" width="19.57" height="9.79" fill="#8396a3"/>
<rect x="672.33" y="289.56" width="9.78" height="9.79" fill="#788798"/>
<rect x="682.12" y="289.56" width="9.79" height="9.79" fill="#8ea4ae"/>
<rect x="691.90" y="289.56" width="9.78" height="9.79" fill="#4e4e6c"/>
<rect x="701.68" y="289.56" width="9.79" height="9.79" fill="#474763"/>
<rect x="711.47" y="289.56" width="9.78" height="9.79" fill="#3c3c54"/>
<rect x="721.25" y="289.56" width="9.78" height="9.79" fill="#35354a"/>
<rect x="731.04" y="289.56" width="9.79" height="9.79" fill="#3c3c54"/>
<rect x="740.83" y="289.56" width="9.78" height="9.79" fill="#323246"/>
<rect x="750.61" y="289.56" width="9.78" height="9.79" fill="#20202d"/>
<rect x="760.39" y="289.56" width="9.79" height="9.79" fill="#1c1c28"/>
<rect x="770.18" y="289.56" width="9.78" height="9.79" fill="#2e2e41"/>
<rect x="310.29" y="299.34" width="9.78" height="9.78" fill="#8ea4ae"/>
<rect x="320.07" y="299.34" width="9.79" height="9.78" fill="#4e4e6c"/>
<rect x="329.86" y="299.34" width="9.78" height="9.78" fill="#20202d"/>
<rect x="339.64" y="299.34" width="9.79" height="9.78" fill="#12121a"/>
<rect x="349.43" y="299.34" width="9.78" height="9.78" fill="#07070b"/>
<rect x="359.21" y="299.34" width="9.79" height="9.78" fill="#0b0b10"/>
<rect x="369.00" y="299.34" width="9.78" height="9.78" fill="#07070b"/>
<rect x="378.78" y="299.34" width="9.79" height="9.78" fill="#4e4e6c"/>
<rect x="388.56" y="299.34" width="9.79" height="9.78" fill="#040406"/>
<rect x="398.35" y="299.34" width="9.78" height="9.78" fill="#12121a"/>
<rect x="408.13" y="299.34" width="9.79" height="9.78" fill="#0e0e15"/>
<rect x="417.92" y="299.34" width="9.78" height="9.78" fill="#272737"/>
<rect x="427.70" y="299.34" width="9.79" height="9.78" fill="#12121a"/>
<rect x="437.49" y="299.34" width="9.78" height="9.78" fill="#1c1c28"/>
<rect x="447.27" y="299.34" width="19.57" height="9.78" fill="#0b0b10"/>
<rect x="466.85" y="299.34" width="9.78" height="9.78" fill="#15151f"/>
<rect x="476.63" y="299.34" width="9.79" height="9.78" fill="#07070b"/>
<rect x="486.42" y="299.34" width="9.79" height="9.78" fill="#15151f"/>
<rect x="496.20" y="299.34" width="9.78" height="9.78" fill="#0e0e15"/>
<rect x="505.99" y="299.34" width="58.71" height="9.78" fill="#040406"/>
<rect x="564.69" y="299.34" width="19.57" height="9.78" fill="#12121a"/>
<rect x="584.26" y="299.34" width="9.78" height="9.78" fill="#20202d"/>
<rect x="594.05" y="299.34" width="9.79" height="9.78" fill="#232332"/>
<rect x="603.84" y="299.34" width="9.78" height="9.78" fill="#3c3c54"/>
<rect x="613.62" y="299.34" width="9.78" height="9.78" fill="#606580"/>
<rect x="623.40" y="299.34" width="9.79" height="9.78" fill="#8ea4ae"/>
<rect x="633.19" y="299.34" width="9.78" height="9.78" fill="#8396a3"/>
<rect x="642.98" y="299.34" width="9.78" height="9.78" fill="#9cb8bc"/>
<rect x="652.76" y="299.34" width="9.79" height="9.78" fill="#7c8c9c"/>
<rect x="662.55" y="299.34" width="9.78" height="9.78" fill="#717d91"/>
<rect x="672.33" y="299.34" width="9.78" height="9.78" fill="#636a83"/>
<rect x="682.12" y="299.34" width="9.79" height="9.78" fill="#758295"/>
<rect x="691.90" y="299.34" width="9.78" height="9.78" fill="#404059"/>
<rect x="701.68" y="299.34" width="9.79" height="9.78" fill="#35354a"/>
<rect x="711.47" y="299.34" width="9.78" height="9.78" fill="#2e2e41"/>
<rect x="721.25" y="299.34" width="9.78" height="9.78" fill="#272737"/>
<rect x="731.04" y="299.34" width="9.79" height="9.78" fill="#323246"/>
<rect x="740.83" y="299.34" width="9.78" height="9.78" fill="#232332"/>
<rect x="750.61" y="299.34" width="19.57" height="9.78" fill="#15151f"/>
<rect x="770.18" y="299.34" width="9.78" height="9.78" fill="#272737"/>
<rect x="310.29" y="309.12" width="9.78" height="9.78" fill="#788798"/>
<rect x="320.07" y="309.12" width="9.79" height="9.78" fill="#555675"/>
<rect x="329.86" y="309.12" width="9.78" height="9.78" fill="#1c1c28"/>
<rect x="339.64" y="309.12" width="9.79" height="9.78" fill="#0b0b10"/>
<rect x="349.43" y="309.12" width="9.78" height="9.78" fill="#040406"/>
<rect x="359.21" y="309.12" width="9.79" height="9.78" fill="#0b0b10"/>
<rect x="369.00" y="309.12" width="9.78" height="9.78" fill="#07070b"/>
<rect x="378.78" y="309.12" width="9.79" height="9.78" fill="#474763"/>
<rect x="388.56" y="309.12" width="9.79" height="9.78" fill="#07070b"/>
<rect x="398.35" y="309.12" width="9.78" height="9.78" fill="#15151f"/>
<rect x="408.13" y="309.12" width="9.79" height="9.78" fill="#12121a"/>
<rect x="417.92" y="309.12" width="9.78" height="9.78" fill="#323246"/>
<rect x="427.70" y="309.12" width="9.79" height="9.78" fill="#191923"/>
<rect x="437.49" y="309.12" width="9.78" height="9.78" fill="#20202d"/>
<rect x="447.27" y="309.12" width="9.79" height="9.78" fill="#0b0b10"/>
<rect x="457.06" y="309.12" width="9.79" height="9.78" fill="#0e0e15"/>
<rect x="466.85" y="309.12" width="9.78" height="9.78" fill="#15151f"/>
<rect x="476.63" y="309.12" width="9.79" height="9.78" fill="#0b0b10"/>
<rect x="486.42" y="309.12" width="9.79" height="9.78" fill="#15151f"/>
<rect x="496.20" y="309.12" width="9.78" height="9.78" fill="#12121a"/>
<rect x="505.99" y="309.12" width="58.71" height="9.78" fill="#0b0b10"/>
<rect x="564.69" y="309.12" width="19.57" height="9.78" fill="#15151f"/>
<rect x="584.26" y="309.12" width="9.78" height="9.78" fill="#20202d"/>
<rect x="594.05" y="309.12" width="9.79" height="9.78" fill="#2a2a3c"/>
<rect x="603.84" y="309.12" width="9.78" height="9.78" fill="#474763"/>
<rect x="613.62" y="309.12" width="9.78" height="9.78" fill="#6e788e"/>
<rect x="623.40" y="309.12" width="9.79" height="9.78" fill="#98b3b8"/>
<rect x="633.19" y="309.12" width="9.78" height="9.78" fill="#8ea4ae"/>
<rect x="642.98" y="309.12" width="9.78" height="9.78" fill="#9cb8bc"/>
<rect x="652.76" y="309.12" width="9.79" height="9.78" fill="#788798"/>
<rect x="662.55" y="309.12" width="9.78" height="9.78" fill="#636a83"/>
<rect x="672.33" y="309.12" width="9.78" height="9.78" fill="#4e4e6c"/>
<rect x="682.12" y="309.12" width="9.79" height="9.78" fill="#606580"/>
<rect x="691.90" y="309.12" width="9.78" height="9.78" fill="#35354a"/>
<rect x="701.68" y="309.12" width="19.57" height="9.78" fill="#272737"/>
<rect x="721.25" y="309.12" width="9.78" height="9.78" fill="#232332"/>
<rect x="731.04" y="309.12" width="9.79" height="9.78" fill="#272737"/>
<rect x="740.83" y="309.12" width="9.78" height="9.78" fill="#1c1c28"/>
<rect x="750.61" y="309.12" width="9.78" height="9.78" fill="#12121a"/>
<rect x="760.39" y="309.12" width="9.79" height="9.78" fill="#0e0e15"/>
<rect x="770.18" y="309.12" width="9.78" height="9.78" fill="#20202d"/>
<rect x="310.29" y="318.91" width="9.78" height="9.79" fill="#555675"/>
<rect x="320.07" y="318.91" width="9.79" height="9.79" fill="#515171"/>
<rect x="329.86" y="318.91" width="9.78" height="9.79" fill="#191923"/>
<rect x="339.64" y="318.91" width="9.79" height="9.79" fill="#07070b"/>
<rect x="349.43" y="318.91" width="9.78" height="9.79" fill="#040406"/>
<rect x="359.21" y="318.91" width="9.79" height="9.79" fill="#07070b"/>
<rect x="369.00" y="318.91" width="9.78" height="9.79" fill="#040406"/>
<rect x="378.78" y="318.91" width="9.79" height="9.79" fill="#3c3c54"/>
<rect x="388.56" y="318.91" width="9.79" height="9.79" fill="#07070b"/>
<rect x="398.35" y="318.91" width="9.78" height="9.79" fill="#191923"/>
<rect x="408.13" y="318.91" width="9.79" height="9.79" fill="#15151f"/>
<rect x="417.92" y="318.91" width="9.78" height="9.79" fill="#404059"/>
<rect x="427.70" y="318.91" width="9.79" height="9.79" fill="#232332"/>
<rect x="437.49" y="318.91" width="9.78" height="9.79" fill="#272737"/>
<rect x="447.27" y="318.91" width="9.79" height="9.79" fill="#0e0e15"/>
<rect x="457.06" y="318.91" width="9.79" height="9.79" fill="#12121a"/>
<rect x="466.85" y="318.91" width="9.78" height="9.79" fill="#15151f"/>
<rect x="476.63" y="318.91" width="9.79" height="9.79" fill="#0e0e15"/>
<rect x="486.42" y="318.91" width="19.57" height="9.79" fill="#15151f"/>
<rect x="505.99" y="318.91" width="58.71" height="9.79" fill="#0b0b10"/>
<rect x="564.69" y="318.91" width="19.57" height="9.79" fill="#15151f"/>
<rect x="584.26" y="318.91" width="9.78" height="9.79" fill="#272737"/>
<rect x="594.05" y="318.91" width="9.79" height="9.79" fill="#35354a"/>
<rect x="603.84" y="318.91" width="9.78" height="9.79" fill="#4e4e6c"/>
<rect x="613.62" y="318.91" width="9.78" height="9.79" fill="#7c8c9c"/>
<rect x="623.40" y="318.91" width="9.79" height="9.79" fill="#9fbdbf"/>
<rect x="633.19" y="318.91" width="9.78" height="9.79" fill="#98b3b8"/>
<rect x="642.98" y="318.91" width="9.78" height="9.79" fill="#95aeb5"/>
<rect x="652.76" y="318.91" width="9.79" height="9.79" fill="#636a83"/>
<rect x="662.55" y="318.91" width="9.78" height="9.79" fill="#5c607c"/>
<rect x="672.33" y="318.91" width="9.78" height="9.79" fill="#3c3c54"/>
<rect x="682.12" y="318.91" width="9.79" height="9.79" fill="#4a4a68"/>
<rect x="691.90" y="318.91" width="9.78" height="9.79" fill="#272737"/>
<rect x="701.68" y="318.91" width="9.79" height="9.79" fill="#20202d"/>
<rect x="711.47" y="318.91" width="9.78" height="9.79" fill="#232332"/>
<rect x="721.25" y="318.91" width="19.57" height="9.79" fill="#20202d"/>
<rect x="740.83" y="318.91" width="9.78" height="9.79" fill="#15151f"/>
<rect x="750.61" y="318.91" width="9.78" height="9.79" fill="#0b0b10"/>
<rect x="760.39" y="318.91" width="9.79" height="9.79" fill="#07070b"/>
<rect x="770.18" y="318.91" width="9.78" height="9.79" fill="#191923"/>
<rect x="310.29" y="328.69" width="9.78" height="9.79" fill="#3c3c54"/>
<rect x="320.07" y="328.69" width="9.79" height="9.79" fill="#404059"/>
<rect x="329.86" y="328.69" width="9.78" height="9.79" fill="#15151f"/>
<rect x="339.64" y="328.69" width="9.79" height="9.79" fill="#040406"/>
<rect x="359.21" y="328.69" width="9.79" height="9.79" fill="#07070b"/>
<rect x="369.00" y="328.69" width="9.78" height="9.79" fill="#040406"/>
<rect x="378.78" y="328.69" width="9.79" height="9.79" fill="#35354a"/>
<rect x="388.56" y="328.69" width="9.79" height="9.79" fill="#07070b"/>
<rect x="398.35" y="328.69" width="19.57" height="9.79" fill="#191923"/>
<rect x="417.92" y="328.69" width="9.78" height="9.79" fill="#4e4e6c"/>
<rect x="427.70" y="328.69" width="19.57" height="9.79" fill="#323246"/>
<rect x="447.27" y="328.69" width="9.79" height="9.79" fill="#12121a"/>
<rect x="457.06" y="328.69" width="19.57" height="9.79" fill="#15151f"/>
<rect x="476.63" y="328.69" width="9.79" height="9.79" fill="#12121a"/>
<rect x="486.42" y="328.69" width="9.79" height="9.79" fill="#15151f"/>
<rect x="496.20" y="328.69" width="9.78" height="9.79" fill="#1c1c28"/>
<rect x="505.99" y="328.69" width="19.57" height="9.79" fill="#0e0e15"/>
<rect x="525.56" y="328.69" width="39.14" height="9.79" fill="#0b0b10"/>
<rect x="564.69" y="328.69" width="19.57" height="9.79" fill="#272737"/>
<rect x="584.26" y="328.69" width="9.78" height="9.79" fill="#323246"/>
<rect x="594.05" y="328.69" width="9.79" height="9.79" fill="#474763"/>
<rect x="603.84" y="328.69" width="9.78" height="9.79" fill="#555675"/>
<rect x="613.62" y="328.69" width="9.78" height="9.79" fill="#8396a3"/>
<rect x="623.40" y="328.69" width="9.79" height="9.79" fill="#9cb8bc"/>
<rect x="633.19" y="328.69" width="9.78" height="9.79" fill="#98b3b8"/>
<rect x="642.98" y="328.69" width="9.78" height="9.79" fill="#8a9faa"/>
<rect x="652.76" y="328.69" width="9.79" height="9.79" fill="#5c607c"/>
<rect x="662.55" y="328.69" width="9.78" height="9.79" fill="#474763"/>
<rect x="672.33" y="328.69" width="19.57" height="9.79" fill="#2a2a3c"/>
<rect x="691.90" y="328.69" width="9.78" height="9.79" fill="#232332"/>
<rect x="701.68" y="328.69" width="9.79" height="9.79" fill="#1c1c28"/>
<rect x="711.47" y="328.69" width="9.78" height="9.79" fill="#272737"/>
<rect x="721.25" y="328.69" width="19.57" height="9.79" fill="#20202d"/>
<rect x="740.83" y="328.69" width="9.78" height="9.79" fill="#15151f"/>
<rect x="750.61" y="328.69" width="9.78" height="9.79" fill="#07070b"/>
<rect x="760.39" y="328.69" width="9.79" height="9.79" fill="#040406"/>
<rect x="770.18" y="328.69" width="9.78" height="9.79" fill="#15151f"/>
<rect x="310.29" y="338.48" width="9.78" height="9.78" fill="#2a2a3c"/>
<rect x="320.07" y="338.48" width="9.79" height="9.78" fill="#35354a"/>
<rect x="329.86" y="338.48" width="9.78" height="9.78" fill="#12121a"/>
<rect x="339.64" y="338.48" width="9.79" height="9.78" fill="#040406"/>
<rect x="359.21" y="338.48" width="9.79" height="9.78" fill="#040406"/>
<rect x="378.78" y="338.48" width="9.79" height="9.78" fill="#2a2a3c"/>
<rect x="388.56" y="338.48" width="9.79" height="9.78" fill="#07070b"/>
<rect x="398.35" y="338.48" width="19.57" height="9.78" fill="#1c1c28"/>
<rect x="417.92" y="338.48" width="9.78" height="9.78" fill="#595b78"/>
<rect x="427.70" y="338.48" width="9.79" height="9.78" fill="#404059"/>
<rect x="437.49" y="338.48" width="9.78" height="9.78" fill="#35354a"/>
<rect x="447.27" y="338.48" width="9.79" height="9.78" fill="#15151f"/>
<rect x="457.06" y="338.48" width="9.79" height="9.78" fill="#20202d"/>
<rect x="466.85" y="338.48" width="9.78" height="9.78" fill="#15151f"/>
<rect x="476.63" y="338.48" width="9.79" height="9.78" fill="#2a2a3c"/>
<rect x="486.42" y="338.48" width="9.79" height="9.78" fill="#15151f"/>
<rect x="496.20" y="338.48" width="9.78" height="9.78" fill="#2a2a3c"/>
<rect x="505.99" y="338.48" width="19.57" height="9.78" fill="#191923"/>
<rect x="525.56" y="338.48" width="39.14" height="9.78" fill="#20202d"/>
<rect x="564.69" y="338.48" width="19.57" height="9.78" fill="#323246"/>
<rect x="584.26" y="338.48" width="9.78" height="9.78" fill="#3c3c54"/>
<rect x="594.05" y="338.48" width="9.79" height="9.78" fill="#555675"/>
<rect x="603.84" y="338.48" width="9.78" height="9.78" fill="#5c607c"/>
<rect x="613.62" y="338.48" width="9.78" height="9.78" fill="#8396a3"/>
<rect x="623.40" y="338.48" width="9.79" height="9.78" fill="#95aeb5"/>
<rect x="633.19" y="338.48" width="9.78" height="9.78" fill="#8a9faa"/>
<rect x="642.98" y="338.48" width="9.78" height="9.78" fill="#717d91"/>
<rect x="652.76" y="338.48" width="9.79" height="9.78" fill="#4a4a68"/>
<rect x="662.55" y="338.48" width="9.78" height="9.78" fill="#323246"/>
<rect x="672.33" y="338.48" width="9.78" height="9.78" fill="#20202d"/>
<rect x="682.12" y="338.48" width="9.79" height="9.78" fill="#1c1c28"/>
<rect x="691.90" y="338.48" width="9.78" height="9.78" fill="#20202d"/>
<rect x="701.68" y="338.48" width="9.79" height="9.78" fill="#1c1c28"/>
<rect x="711.47" y="338.48" width="9.78" height="9.78" fill="#2a2a3c"/>
<rect x="721.25" y="338.48" width="9.78" height="9.78" fill="#232332"/>
<rect x="731.04" y="338.48" width="9.79" height="9.78" fill="#20202d"/>
<rect x="740.83" y="338.48" width="9.78" height="9.78" fill="#12121a"/>
<rect x="750.61" y="338.48" width="9.78" height="9.78" fill="#07070b"/>
<rect x="770.18" y="338.48" width="9.78" height="9.78" fill="#15151f"/>
<rect x="310.29" y="348.26" width="9.78" height="9.79" fill="#1c1c28"/>
<rect x="320.07" y="348.26" width="9.79" height="9.79" fill="#2e2e41"/>
<rect x="329.86" y="348.26" width="9.78" height="9.79" fill="#12121a"/>
<rect x="339.64" y="348.26" width="9.79" height="9.79" fill="#040406"/>
<rect x="378.78" y="348.26" width="9.79" height="9.79" fill="#20202d"/>
<rect x="388.56" y="348.26" width="9.79" height="9.79" fill="#07070b"/>
<rect x="398.35" y="348.26" width="9.78" height="9.79" fill="#1c1c28"/>
<rect x="408.13" y="348.26" width="9.79" height="9.79" fill="#20202d"/>
<rect x="417.92" y="348.26" width="9.78" height="9.79" fill="#636a83"/>
<rect x="427.70" y="348.26" width="9.79" height="9.79" fill="#474763"/>
<rect x="437.49" y="348.26" width="9.78" height="9.79" fill="#404059"/>
<rect x="447.27" y="348.26" width="9.79" height="9.79" fill="#191923"/>
<rect x="457.06" y="348.26" width="9.79" height="9.79" fill="#2a2a3c"/>
<rect x="466.85" y="348.26" width="9.78" height="9.79" fill="#15151f"/>
<rect x="476.63" y="348.26" width="9.79" height="9.79" fill="#35354a"/>
<rect x="486.42" y="348.26" width="9.79" height="9.79" fill="#191923"/>
<rect x="496.20" y="348.26" width="9.78" height="9.79" fill="#39394f"/>
<rect x="505.99" y="348.26" width="19.57" height="9.79" fill="#232332"/>
<rect x="525.56" y="348.26" width="39.14" height="9.79" fill="#2a2a3c"/>
<rect x="564.69" y="348.26" width="19.57" height="9.79" fill="#3c3c54"/>
<rect x="584.26" y="348.26" width="9.78" height="9.79" fill="#4e4e6c"/>
<rect x="594.05" y="348.26" width="9.79" height="9.79" fill="#636a83"/>
<rect x="603.84" y="348.26" width="9.78" height="9.79" fill="#5c607c"/>
<rect x="613.62" y="348.26" width="29.36" height="9.79" fill="#7c8c9c"/>
<rect x="642.98" y="348.26" width="9.78" height="9.79" fill="#5c607c"/>
<rect x="652.76" y="348.26" width="9.79" height="9.79" fill="#404059"/>
<rect x="662.55" y="348.26" width="9.78" height="9.79" fill="#20202d"/>
<rect x="672.33" y="348.26" width="9.78" height="9.79" fill="#1c1c28"/>
<rect x="682.12" y="348.26" width="9.79" height="9.79" fill="#15151f"/>
<rect x="691.90" y="348.26" width="9.78" height="9.79" fill="#20202d"/>
<rect x="701.68" y="348.26" width="9.79" height="9.79" fill="#1c1c28"/>
<rect x="711.47" y="348.26" width="9.78" height="9.79" fill="#323246"/>
<rect x="721.25" y="348.26" width="9.78" height="9.79" fill="#272737"/>
<rect x="731.04" y="348.26" width="9.79" height="9.79" fill="#232332"/>
<rect x="740.83" y="348.26" width="9.78" height="9.79" fill="#12121a"/>
<rect x="750.61" y="348.26" width="9.78" height="9.79" fill="#07070b"/>
<rect x="770.18" y="348.26" width="9.78" height="9.79" fill="#15151f"/>
<rect x="310.29" y="358.05" width="9.78" height="9.79" fill="#15151f"/>
<rect x="320.07" y="358.05" width="9.79" height="9.79" fill="#232332"/>
<rect x="329.86" y="358.05" width="9.78" height="9.79" fill="#12121a"/>
<rect x="339.64" y="358.05" width="9.79" height="9.79" fill="#040406"/>
<rect x="378.78" y="358.05" width="9.79" height="9.79" fill="#191923"/>
<rect x="388.56" y="358.05" width="9.79" height="9.79" fill="#07070b"/>
<rect x="398.35" y="358.05" width="9.78" height="9.79" fill="#1c1c28"/>
<rect x="408.13" y="358.05" width="9.79" height="9.79" fill="#20202d"/>
<rect x="417.92" y="358.05" width="9.78" height="9.79" fill="#6a748a"/>
<rect x="427.70" y="358.05" width="9.79" height="9.79" fill="#4e4e6c"/>
<rect x="437.49" y="358.05" width="9.78" height="9.79" fill="#474763"/>
<rect x="447.27" y="358.05" width="9.79" height="9.79" fill="#1c1c28"/>
<rect x="457.06" y="358.05" width="9.79" height="9.79" fill="#35354a"/>
<rect x="466.85" y="358.05" width="9.78" height="9.79" fill="#191923"/>
<rect x="476.63" y="358.05" width="9.79" height="9.79" fill="#4e4e6c"/>
<rect x="486.42" y="358.05" width="9.79" height="9.79" fill="#1c1c28"/>
<rect x="496.20" y="358.05" width="9.78" height="9.79" fill="#4a4a68"/>
<rect x="505.99" y="358.05" width="19.57" height="9.79" fill="#35354a"/>
<rect x="525.56" y="358.05" width="39.14" height="9.79" fill="#3c3c54"/>
<rect x="564.69" y="358.05" width="19.57" height="9.79" fill="#555675"/>
<rect x="584.26" y="358.05" width="9.78" height="9.79" fill="#5c607c"/>
<rect x="594.05" y="358.05" width="9.79" height="9.79" fill="#676f87"/>
<rect x="603.84" y="358.05" width="9.78" height="9.79" fill="#555675"/>
<rect x="613.62" y="358.05" width="9.78" height="9.79" fill="#717d91"/>
<rect x="623.40" y="358.05" width="19.57" height="9.79" fill="#636a83"/>
<rect x="642.98" y="358.05" width="9.78" height="9.79" fill="#4a4a68"/>
<rect x="652.76" y="358.05" width="9.79" height="9.79" fill="#35354a"/>
<rect x="662.55" y="358.05" width="19.57" height="9.79" fill="#191923"/>
<rect x="682.12" y="358.05" width="9.79" height="9.79" fill="#0e0e15"/>
<rect x="691.90" y="358.05" width="9.78" height="9.79" fill="#20202d"/>
<rect x="701.68" y="358.05" width="9.79" height="9.79" fill="#1c1c28"/>
<rect x="711.47" y="358.05" width="9.78" height="9.79" fill="#35354a"/>
<rect x="721.25" y="358.05" width="9.78" height="9.79" fill="#2e2e41"/>
<rect x="731.04" y="358.05" width="9.79" height="9.79" fill="#272737"/>
<rect x="740.83" y="358.05" width="9.78" height="9.79" fill="#12121a"/>
<rect x="750.61" y="358.05" width="9.78" height="9.79" fill="#0b0b10"/>
<rect x="770.18" y="358.05" width="9.78" height="9.79" fill="#15151f"/>
<rect x="310.29" y="367.84" width="9.78" height="9.78" fill="#12121a"/>
<rect x="320.07" y="367.84" width="9.79" height="9.78" fill="#191923"/>
<rect x="329.86" y="367.84" width="9.78" height="9.78" fill="#0e0e15"/>
<rect x="339.64" y="367.84" width="9.79" height="9.78" fill="#040406"/>
<rect x="378.78" y="367.84" width="9.79" height="9.78" fill="#12121a"/>
<rect x="388.56" y="367.84" width="9.79" height="9.78" fill="#07070b"/>
<rect x="398.35" y="367.84" width="9.78" height="9.78" fill="#191923"/>
<rect x="408.13" y="367.84" width="9.79" height="9.78" fill="#1c1c28"/>
<rect x="417.92" y="367.84" width="9.78" height="9.78" fill="#6a748a"/>
<rect x="427.70" y="367.84" width="9.79" height="9.78" fill="#515171"/>
<rect x="437.49" y="367.84" width="9.78" height="9.78" fill="#474763"/>
<rect x="447.27" y="367.84" width="9.79" height="9.78" fill="#20202d"/>
<rect x="457.06" y="367.84" width="9.79" height="9.78" fill="#404059"/>
<rect x="466.85" y="367.84" width="9.78" height="9.78" fill="#2a2a3c"/>
<rect x="476.63" y="367.84" width="9.79" height="9.78" fill="#606580"/>
<rect x="486.42" y="367.84" width="9.79" height="9.78" fill="#2a2a3c"/>
<rect x="496.20" y="367.84" width="9.78" height="9.78" fill="#606580"/>
<rect x="505.99" y="367.84" width="19.57" height="9.78" fill="#4a4a68"/>
<rect x="525.56" y="367.84" width="39.14" height="9.78" fill="#555675"/>
<rect x="564.69" y="367.84" width="29.36" height="9.78" fill="#636a83"/>
<rect x="594.05" y="367.84" width="9.79" height="9.78" fill="#6a748a"/>
<rect x="603.84" y="367.84" width="9.78" height="9.78" fill="#4e4e6c"/>
<rect x="613.62" y="367.84" width="9.78" height="9.78" fill="#606580"/>
<rect x="623.40" y="367.84" width="19.57" height="9.78" fill="#4e4e6c"/>
<rect x="642.98" y="367.84" width="9.78" height="9.78" fill="#272737"/>
<rect x="652.76" y="367.84" width="9.79" height="9.78" fill="#35354a"/>
<rect x="662.55" y="367.84" width="9.78" height="9.78" fill="#15151f"/>
<rect x="672.33" y="367.84" width="9.78" height="9.78" fill="#191923"/>
<rect x="682.12" y="367.84" width="9.79" height="9.78" fill="#07070b"/>
<rect x="691.90" y="367.84" width="9.78" height="9.78" fill="#20202d"/>
<rect x="701.68" y="367.84" width="9.79" height="9.78" fill="#1c1c28"/>
<rect x="711.47" y="367.84" width="9.78" height="9.78" fill="#3c3c54"/>
<rect x="721.25" y="367.84" width="9.78" height="9.78" fill="#323246"/>
<rect x="731.04" y="367.84" width="9.79" height="9.78" fill="#272737"/>
<rect x="740.83" y="367.84" width="9.78" height="9.78" fill="#12121a"/>
<rect x="750.61" y="367.84" width="9.78" height="9.78" fill="#0b0b10"/>
<rect x="770.18" y="367.84" width="9.78" height="9.78" fill="#191923"/>
<rect x="310.29" y="377.62" width="9.78" height="9.79" fill="#0e0e15"/>
<rect x="320.07" y="377.62" width="9.79" height="9.79" fill="#15151f"/>
<rect x="329.86" y="377.62" width="9.78" height="9.79" fill="#0e0e15"/>
<rect x="339.64" y="377.62" width="9.79" height="9.79" fill="#040406"/>
<rect x="378.78" y="377.62" width="9.79" height="9.79" fill="#0e0e15"/>
<rect x="388.56" y="377.62" width="9.79" height="9.79" fill="#040406"/>
<rect x="398.35" y="377.62" width="19.57" height="9.79" fill="#15151f"/>
<rect x="417.92" y="377.62" width="9.78" height="9.79" fill="#606580"/>
<rect x="427.70" y="377.62" width="9.79" height="9.79" fill="#4e4e6c"/>
<rect x="437.49" y="377.62" width="9.78" height="9.79" fill="#474763"/>
<rect x="447.27" y="377.62" width="9.79" height="9.79" fill="#232332"/>
<rect x="457.06" y="377.62" width="9.79" height="9.79" fill="#43435e"/>
<rect x="466.85" y="377.62" width="9.78" height="9.79" fill="#35354a"/>
<rect x="476.63" y="377.62" width="9.79" height="9.79" fill="#6a748a"/>
<rect x="486.42" y="377.62" width="9.79" height="9.79" fill="#404059"/>
<rect x="496.20" y="377.62" width="9.78" height="9.79" fill="#717d91"/>
<rect x="505.99" y="377.62" width="19.57" height="9.79" fill="#606580"/>
<rect x="525.56" y="377.62" width="58.71" height="9.79" fill="#6a748a"/>
<rect x="584.26" y="377.62" width="9.78" height="9.79" fill="#676f87"/>
<rect x="594.05" y="377.62" width="9.79" height="9.79" fill="#636a83"/>
<rect x="603.84" y="377.62" width="9.78" height="9.79" fill="#4a4a68"/>
<rect x="613.62" y="377.62" width="9.78" height="9.79" fill="#4e4e6c"/>
<rect x="623.40" y="377.62" width="19.57" height="9.79" fill="#3c3c54"/>
<rect x="642.98" y="377.62" width="9.78" height="9.79" fill="#1c1c28"/>
<rect x="652.76" y="377.62" width="9.79" height="9.79" fill="#323246"/>
<rect x="662.55" y="377.62" width="9.78" height="9.79" fill="#12121a"/>
<rect x="672.33" y="377.62" width="9.78" height="9.79" fill="#191923"/>
<rect x="682.12" y="377.62" width="9.79" height="9.79" fill="#040406"/>
<rect x="691.90" y="377.62" width="19.57" height="9.79" fill="#1c1c28"/>
<rect x="711.47" y="377.62" width="9.78" height="9.79" fill="#404059"/>
<rect x="721.25" y="377.62" width="9.78" height="9.79" fill="#323246"/>
<rect x="731.04" y="377.62" width="9.79" height="9.79" fill="#2e2e41"/>
<rect x="740.83" y="377.62" width="9.78" height="9.79" fill="#12121a"/>
<rect x="750.61" y="377.62" width="9.78" height="9.79" fill="#0e0e15"/>
<rect x="760.39" y="377.62" width="9.79" height="9.79" fill="#040406"/>
<rect x="770.18" y="377.62" width="9.78" height="9.79" fill="#1c1c28"/>
<rect x="310.29" y="387.41" width="9.78" height="9.78" fill="#0b0b10"/>
<rect x="320.07" y="387.41" width="9.79" height="9.78" fill="#0e0e15"/>
<rect x="329.86" y="387.41" width="9.78" height="9.78" fill="#0b0b10"/>
<rect x="378.78" y="387.41" width="9.79" height="9.78" fill="#0b0b10"/>
<rect x="388.56" y="387.41" width="9.79" height="9.78" fill="#040406"/>
<rect x="398.35" y="387.41" width="9.78" height="9.78" fill="#0e0e15"/>
<rect x="408.13" y="387.41" width="9.79" height="9.78" fill="#12121a"/>
<rect x="417.92" y="387.41" width="9.78" height="9.78" fill="#555675"/>
<rect x="427.70" y="387.41" width="9.79" height="9.78" fill="#4a4a68"/>
<rect x="437.49" y="387.41" width="9.78" height="9.78" fill="#43435e"/>
<rect x="447.27" y="387.41" width="9.79" height="9.78" fill="#272737"/>
<rect x="457.06" y="387.41" width="9.79" height="9.78" fill="#474763"/>
<rect x="466.85" y="387.41" width="9.78" height="9.78" fill="#404059"/>
<rect x="476.63" y="387.41" width="9.79" height="9.78" fill="#717d91"/>
<rect x="486.42" y="387.41" width="9.79" height="9.78" fill="#4a4a68"/>
<rect x="496.20" y="387.41" width="9.78" height="9.78" fill="#8396a3"/>
<rect x="505.99" y="387.41" width="19.57" height="9.78" fill="#717d91"/>
<rect x="525.56" y="387.41" width="39.14" height="9.78" fill="#8396a3"/>
<rect x="564.69" y="387.41" width="19.57" height="9.78" fill="#717d91"/>
<rect x="584.26" y="387.41" width="9.78" height="9.78" fill="#636a83"/>
<rect x="594.05" y="387.41" width="9.79" height="9.78" fill="#4e4e6c"/>
<rect x="603.84" y="387.41" width="9.78" height="9.78" fill="#3c3c54"/>
<rect x="613.62" y="387.41" width="9.78" height="9.78" fill="#35354a"/>
<rect x="623.40" y="387.41" width="9.79" height="9.78" fill="#2a2a3c"/>
<rect x="633.19" y="387.41" width="9.78" height="9.78" fill="#2e2e41"/>
<rect x="642.98" y="387.41" width="9.78" height="9.78" fill="#15151f"/>
<rect x="652.76" y="387.41" width="9.79" height="9.78" fill="#323246"/>
<rect x="662.55" y="387.41" width="9.78" height="9.78" fill="#12121a"/>
<rect x="672.33" y="387.41" width="9.78" height="9.78" fill="#191923"/>
<rect x="682.12" y="387.41" width="9.79" height="9.78" fill="#040406"/>
<rect x="691.90" y="387.41" width="19.57" height="9.78" fill="#1c1c28"/>
<rect x="711.47" y="387.41" width="9.78" height="9.78" fill="#404059"/>
<rect x="721.25" y="387.41" width="19.57" height="9.78" fill="#323246"/>
<rect x="740.83" y="387.41" width="9.78" height="9.78" fill="#12121a"/>
<rect x="750.61" y="387.41" width="9.78" height="9.78" fill="#15151f"/>
<rect x="760.39" y="387.41" width="9.79" height="9.78" fill="#040406"/>
<rect x="770.18" y="387.41" width="9.78" height="9.78" fill="#20202d"/>
<rect x="310.29" y="397.19" width="9.78" height="9.79" fill="#0b0b10"/>
<rect x="320.07" y="397.19" width="9.79" height="9.79" fill="#0e0e15"/>
<rect x="329.86" y="397.19" width="9.78" height="9.79" fill="#07070b"/>
<rect x="378.78" y="397.19" width="9.79" height="9.79" fill="#0b0b10"/>
<rect x="388.56" y="397.19" width="9.79" height="9.79" fill="#040406"/>
<rect x="398.35" y="397.19" width="19.57" height="9.79" fill="#0b0b10"/>
<rect x="417.92" y="397.19" width="19.57" height="9.79" fill="#4e4e6c"/>
<rect x="437.49" y="397.19" width="9.78" height="9.79" fill="#474763"/>
<rect x="447.27" y="397.19" width="9.79" height="9.79" fill="#2a2a3c"/>
<rect x="457.06" y="397.19" width="9.79" height="9.79" fill="#35354a"/>
<rect x="466.85" y="397.19" width="9.78" height="9.79" fill="#3c3c54"/>
<rect x="476.63" y="397.19" width="9.79" height="9.79" fill="#6e788e"/>
<rect x="486.42" y="397.19" width="9.79" height="9.79" fill="#4e4e6c"/>
<rect x="496.20" y="397.19" width="29.36" height="9.79" fill="#8396a3"/>
<rect x="525.56" y="397.19" width="39.14" height="9.79" fill="#98b3b8"/>
<rect x="564.69" y="397.19" width="19.57" height="9.79" fill="#717d91"/>
<rect x="584.26" y="397.19" width="9.78" height="9.79" fill="#5c607c"/>
<rect x="594.05" y="397.19" width="9.79" height="9.79" fill="#404059"/>
<rect x="603.84" y="397.19" width="9.78" height="9.79" fill="#323246"/>
<rect x="613.62" y="397.19" width="9.78" height="9.79" fill="#272737"/>
<rect x="623.40" y="397.19" width="9.79" height="9.79" fill="#1c1c28"/>
<rect x="633.19" y="397.19" width="9.78" height="9.79" fill="#232332"/>
<rect x="642.98" y="397.19" width="9.78" height="9.79" fill="#12121a"/>
<rect x="652.76" y="397.19" width="9.79" height="9.79" fill="#323246"/>
<rect x="662.55" y="397.19" width="9.78" height="9.79" fill="#12121a"/>
<rect x="672.33" y="397.19" width="9.78" height="9.79" fill="#191923"/>
<rect x="682.12" y="397.19" width="9.79" height="9.79" fill="#040406"/>
<rect x="691.90" y="397.19" width="19.57" height="9.79" fill="#1c1c28"/>
<rect x="711.47" y="397.19" width="9.78" height="9.79" fill="#404059"/>
<rect x="721.25" y="397.19" width="19.57" height="9.79" fill="#323246"/>
<rect x="740.83" y="397.19" width="9.78" height="9.79" fill="#12121a"/>
<rect x="750.61" y="397.19" width="9.78" height="9.79" fill="#15151f"/>
<rect x="760.39" y="397.19" width="9.79" height="9.79" fill="#07070b"/>
<rect x="770.18" y="397.19" width="9.78" height="9.79" fill="#20202d"/>
<rect x="310.29" y="406.98" width="9.78" height="9.78" fill="#07070b"/>
<rect x="320.07" y="406.98" width="9.79" height="9.78" fill="#0b0b10"/>
<rect x="329.86" y="406.98" width="9.78" height="9.78" fill="#07070b"/>
<rect x="378.78" y="406.98" width="9.79" height="9.78" fill="#07070b"/>
<rect x="388.56" y="406.98" width="9.79" height="9.78" fill="#040406"/>
<rect x="398.35" y="406.98" width="19.57" height="9.78" fill="#07070b"/>
<rect x="417.92" y="406.98" width="9.78" height="9.78" fill="#474763"/>
<rect x="427.70" y="406.98" width="9.79" height="9.78" fill="#4a4a68"/>
<rect x="437.49" y="406.98" width="9.78" height="9.78" fill="#404059"/>
<rect x="447.27" y="406.98" width="9.79" height="9.78" fill="#2a2a3c"/>
<rect x="457.06" y="406.98" width="9.79" height="9.78" fill="#323246"/>
<rect x="466.85" y="406.98" width="9.78" height="9.78" fill="#555675"/>
<rect x="476.63" y="406.98" width="9.79" height="9.78" fill="#6e788e"/>
<rect x="486.42" y="406.98" width="9.79" height="9.78" fill="#5c607c"/>
<rect x="496.20" y="406.98" width="9.78" height="9.78" fill="#8396a3"/>
<rect x="505.99" y="406.98" width="19.57" height="9.78" fill="#98b3b8"/>
<rect x="525.56" y="406.98" width="39.14" height="9.78" fill="#a3c1c3"/>
<rect x="564.69" y="406.98" width="19.57" height="9.78" fill="#717d91"/>
<rect x="584.26" y="406.98" width="9.78" height="9.78" fill="#555675"/>
<rect x="594.05" y="406.98" width="9.79" height="9.78" fill="#35354a"/>
<rect x="603.84" y="406.98" width="9.78" height="9.78" fill="#2a2a3c"/>
<rect x="613.62" y="406.98" width="9.78" height="9.78" fill="#1c1c28"/>
<rect x="623.40" y="406.98" width="9.79" height="9.78" fill="#15151f"/>
<rect x="633.19" y="406.98" width="9.78" height="9.78" fill="#1c1c28"/>
<rect x="642.98" y="406.98" width="9.78" height="9.78" fill="#0e0e15"/>
<rect x="652.76" y="406.98" width="9.79" height="9.78" fill="#2e2e41"/>
<rect x="662.55" y="406.98" width="9.78" height="9.78" fill="#12121a"/>
<rect x="672.33" y="406.98" width="9.78" height="9.78" fill="#191923"/>
<rect x="682.12" y="406.98" width="9.79" height="9.78" fill="#040406"/>
<rect x="691.90" y="406.98" width="19.57" height="9.78" fill="#1c1c28"/>
<rect x="711.47" y="406.98" width="9.78" height="9.78" fill="#404059"/>
<rect x="721.25" y="406.98" width="19.57" height="9.78" fill="#2a2a3c"/>
<rect x="740.83" y="406.98" width="9.78" height="9.78" fill="#12121a"/>
<rect x="750.61" y="406.98" width="9.78" height="9.78" fill="#15151f"/>
<rect x="760.39" y="406.98" width="9.79" height="9.78" fill="#07070b"/>
<rect x="770.18" y="406.98" width="9.78" height="9.78" fill="#20202d"/>
<rect x="310.29" y="416.76" width="9.78" height="9.79" fill="#07070b"/>
<rect x="320.07" y="416.76" width="9.79" height="9.79" fill="#0b0b10"/>
<rect x="329.86" y="416.76" width="9.78" height="9.79" fill="#07070b"/>
<rect x="378.78" y="416.76" width="9.79" height="9.79" fill="#07070b"/>
<rect x="388.56" y="416.76" width="9.79" height="9.79" fill="#040406"/>
<rect x="398.35" y="416.76" width="19.57" height="9.79" fill="#07070b"/>
<rect x="417.92" y="416.76" width="9.78" height="9.79" fill="#3c3c54"/>
<rect x="427.70" y="416.76" width="9.79" height="9.79" fill="#404059"/>
<rect x="437.49" y="416.76" width="9.78" height="9.79" fill="#3c3c54"/>
<rect x="447.27" y="416.76" width="19.57" height="9.79" fill="#323246"/>
<rect x="466.85" y="416.76" width="9.78" height="9.79" fill="#636a83"/>
<rect x="476.63" y="416.76" width="9.79" height="9.79" fill="#6e788e"/>
<rect x="486.42" y="416.76" width="9.79" height="9.79" fill="#636a83"/>
<rect x="496.20" y="416.76" width="9.78" height="9.79" fill="#8396a3"/>
<rect x="505.99" y="416.76" width="19.57" height="9.79" fill="#98b3b8"/>
<rect x="525.56" y="416.76" width="39.14" height="9.79" fill="#a6c6c6"/>
<rect x="564.69" y="416.76" width="19.57" height="9.79" fill="#717d91"/>
<rect x="584.26" y="416.76" width="9.78" height="9.79" fill="#515171"/>
<rect x="594.05" y="416.76" width="9.79" height="9.79" fill="#2a2a3c"/>
<rect x="603.84" y="416.76" width="9.78" height="9.79" fill="#191923"/>
<rect x="613.62" y="416.76" width="9.78" height="9.79" fill="#15151f"/>
<rect x="623.40" y="416.76" width="9.79" height="9.79" fill="#12121a"/>
<rect x="633.19" y="416.76" width="9.78" height="9.79" fill="#15151f"/>
<rect x="642.98" y="416.76" width="9.78" height="9.79" fill="#0b0b10"/>
<rect x="652.76" y="416.76" width="9.79" height="9.79" fill="#2e2e41"/>
<rect x="662.55" y="416.76" width="9.78" height="9.79" fill="#12121a"/>
<rect x="672.33" y="416.76" width="9.78" height="9.79" fill="#15151f"/>
<rect x="682.12" y="416.76" width="9.79" height="9.79" fill="#07070b"/>
<rect x="691.90" y="416.76" width="19.57" height="9.79" fill="#1c1c28"/>
<rect x="711.47" y="416.76" width="9.78" height="9.79" fill="#404059"/>
<rect x="721.25" y="416.76" width="19.57" height="9.79" fill="#272737"/>
<rect x="740.83" y="416.76" width="9.78" height="9.79" fill="#12121a"/>
<rect x="750.61" y="416.76" width="9.78" height="9.79" fill="#15151f"/>
<rect x="760.39" y="416.76" width="9.79" height="9.79" fill="#07070b"/>
<rect x="770.18" y="416.76" width="9.78" height="9.79" fill="#20202d"/>
<rect x="310.29" y="426.55" width="9.78" height="9.79" fill="#0b0b10"/>
<rect x="320.07" y="426.55" width="9.79" height="9.79" fill="#0e0e15"/>
<rect x="329.86" y="426.55" width="9.78" height="9.79" fill="#07070b"/>
<rect x="339.64" y="426.55" width="9.79" height="9.79" fill="#040406"/>
<rect x="378.78" y="426.55" width="9.79" height="9.79" fill="#040406"/>
<rect x="408.13" y="426.55" width="9.79" height="9.79" fill="#040406"/>
<rect x="417.92" y="426.55" width="9.78" height="9.79" fill="#323246"/>
<rect x="427.70" y="426.55" width="19.57" height="9.79" fill="#35354a"/>
<rect x="447.27" y="426.55" width="9.79" height="9.79" fill="#3c3c54"/>
<rect x="457.06" y="426.55" width="9.79" height="9.79" fill="#35354a"/>
<rect x="466.85" y="426.55" width="9.78" height="9.79" fill="#676f87"/>
<rect x="476.63" y="426.55" width="9.79" height="9.79" fill="#6e788e"/>
<rect x="486.42" y="426.55" width="9.79" height="9.79" fill="#636a83"/>
<rect x="496.20" y="426.55" width="9.78" height="9.79" fill="#8396a3"/>
<rect x="505.99" y="426.55" width="19.57" height="9.79" fill="#a3c1c3"/>
<rect x="525.56" y="426.55" width="39.14" height="9.79" fill="#b2cdcd"/>
<rect x="564.69" y="426.55" width="19.57" height="9.79" fill="#717d91"/>
<rect x="584.26" y="426.55" width="9.78" height="9.79" fill="#4e4e6c"/>
<rect x="594.05" y="426.55" width="9.79" height="9.79" fill="#35354a"/>
<rect x="603.84" y="426.55" width="9.78" height="9.79" fill="#191923"/>
<rect x="613.62" y="426.55" width="19.57" height="9.79" fill="#12121a"/>
<rect x="633.19" y="426.55" width="9.78" height="9.79" fill="#15151f"/>
<rect x="642.98" y="426.55" width="9.78" height="9.79" fill="#0b0b10"/>
<rect x="652.76" y="426.55" width="9.79" height="9.79" fill="#2e2e41"/>
<rect x="662.55" y="426.55" width="9.78" height="9.79" fill="#0e0e15"/>
<rect x="672.33" y="426.55" width="9.78" height="9.79" fill="#1c1c28"/>
<rect x="682.12" y="426.55" width="9.79" height="9.79" fill="#0b0b10"/>
<rect x="691.90" y="426.55" width="19.57" height="9.79" fill="#20202d"/>
<rect x="711.47" y="426.55" width="9.78" height="9.79" fill="#404059"/>
<rect x="721.25" y="426.55" width="19.57" height="9.79" fill="#272737"/>
<rect x="740.83" y="426.55" width="9.78" height="9.79" fill="#12121a"/>
<rect x="750.61" y="426.55" width="9.78" height="9.79" fill="#15151f"/>
<rect x="760.39" y="426.55" width="9.79" height="9.79" fill="#0b0b10"/>
<rect x="770.18" y="426.55" width="9.78" height="9.79" fill="#2a2a3c"/>
<rect x="310.29" y="436.33" width="9.78" height="9.78" fill="#0b0b10"/>
<rect x="320.07" y="436.33" width="9.79" height="9.78" fill="#15151f"/>
<rect x="329.86" y="436.33" width="9.78" height="9.78" fill="#07070b"/>
<rect x="339.64" y="436.33" width="9.79" height="9.78" fill="#040406"/>
<rect x="408.13" y="436.33" width="9.79" height="9.78" fill="#07070b"/>
<rect x="417.92" y="436.33" width="9.78" height="9.78" fill="#2a2a3c"/>
<rect x="427.70" y="436.33" width="19.57" height="9.78" fill="#35354a"/>
<rect x="447.27" y="436.33" width="9.79" height="9.78" fill="#4a4a68"/>
<rect x="457.06" y="436.33" width="9.79" height="9.78" fill="#474763"/>
<rect x="466.85" y="436.33" width="19.57" height="9.78" fill="#717d91"/>
<rect x="486.42" y="436.33" width="9.79" height="9.78" fill="#676f87"/>
<rect x="496.20" y="436.33" width="9.78" height="9.78" fill="#8396a3"/>
<rect x="505.99" y="436.33" width="58.71" height="9.78" fill="#a3c1c3"/>
<rect x="564.69" y="436.33" width="19.57" height="9.78" fill="#636a83"/>
<rect x="584.26" y="436.33" width="9.78" height="9.78" fill="#4a4a68"/>
<rect x="594.05" y="436.33" width="9.79" height="9.78" fill="#323246"/>
<rect x="603.84" y="436.33" width="9.78" height="9.78" fill="#191923"/>
<rect x="613.62" y="436.33" width="19.57" height="9.78" fill="#12121a"/>
<rect x="633.19" y="436.33" width="9.78" height="9.78" fill="#15151f"/>
<rect x="642.98" y="436.33" width="9.78" height="9.78" fill="#0b0b10"/>
<rect x="652.76" y="436.33" width="9.79" height="9.78" fill="#2a2a3c"/>
<rect x="662.55" y="436.33" width="9.78" height="9.78" fill="#0e0e15"/>
<rect x="672.33" y="436.33" width="9.78" height="9.78" fill="#1c1c28"/>
<rect x="682.12" y="436.33" width="9.79" height="9.78" fill="#0b0b10"/>
<rect x="691.90" y="436.33" width="19.57" height="9.78" fill="#20202d"/>
<rect x="711.47" y="436.33" width="9.78" height="9.78" fill="#404059"/>
<rect x="721.25" y="436.33" width="9.78" height="9.78" fill="#272737"/>
<rect x="731.04" y="436.33" width="9.79" height="9.78" fill="#232332"/>
<rect x="740.83" y="436.33" width="9.78" height="9.78" fill="#12121a"/>
<rect x="750.61" y="436.33" width="9.78" height="9.78" fill="#15151f"/>
<rect x="760.39" y="436.33" width="9.79" height="9.78" fill="#0b0b10"/>
<rect x="770.18" y="436.33" width="9.78" height="9.78" fill="#2a2a3c"/>
<rect x="310.29" y="446.12" width="9.78" height="9.79" fill="#0e0e15"/>
<rect x="320.07" y="446.12" width="9.79" height="9.79" fill="#191923"/>
<rect x="329.86" y="446.12" width="9.78" height="9.79" fill="#0b0b10"/>
<rect x="339.64" y="446.12" width="9.79" height="9.79" fill="#07070b"/>
<rect x="408.13" y="446.12" width="9.79" height="9.79" fill="#0e0e15"/>
<rect x="417.92" y="446.12" width="9.78" height="9.79" fill="#272737"/>
<rect x="427.70" y="446.12" width="9.79" height="9.79" fill="#3c3c54"/>
<rect x="437.49" y="446.12" width="9.78" height="9.79" fill="#404059"/>
<rect x="447.27" y="446.12" width="9.79" height="9.79" fill="#636a83"/>
<rect x="457.06" y="446.12" width="9.79" height="9.79" fill="#5c607c"/>
<rect x="466.85" y="446.12" width="9.78" height="9.79" fill="#788798"/>
<rect x="476.63" y="446.12" width="19.57" height="9.79" fill="#6e788e"/>
<rect x="496.20" y="446.12" width="9.78" height="9.79" fill="#7c8c9c"/>
<rect x="505.99" y="446.12" width="19.57" height="9.79" fill="#9fbdbf"/>
<rect x="525.56" y="446.12" width="39.14" height="9.79" fill="#98b3b8"/>
<rect x="564.69" y="446.12" width="19.57" height="9.79" fill="#606580"/>
<rect x="584.26" y="446.12" width="9.78" height="9.79" fill="#474763"/>
<rect x="594.05" y="446.12" width="9.79" height="9.79" fill="#2e2e41"/>
<rect x="603.84" y="446.12" width="9.78" height="9.79" fill="#1c1c28"/>
<rect x="613.62" y="446.12" width="19.57" height="9.79" fill="#12121a"/>
<rect x="633.19" y="446.12" width="9.78" height="9.79" fill="#15151f"/>
<rect x="642.98" y="446.12" width="9.78" height="9.79" fill="#0b0b10"/>
<rect x="652.76" y="446.12" width="9.79" height="9.79" fill="#272737"/>
<rect x="662.55" y="446.12" width="9.78" height="9.79" fill="#15151f"/>
<rect x="672.33" y="446.12" width="9.78" height="9.79" fill="#1c1c28"/>
<rect x="682.12" y="446.12" width="9.79" height="9.79" fill="#0e0e15"/>
<rect x="691.90" y="446.12" width="9.78" height="9.79" fill="#232332"/>
<rect x="701.68" y="446.12" width="9.79" height="9.79" fill="#20202d"/>
<rect x="711.47" y="446.12" width="9.78" height="9.79" fill="#3c3c54"/>
<rect x="721.25" y="446.12" width="9.78" height="9.79" fill="#272737"/>
<rect x="731.04" y="446.12" width="9.79" height="9.79" fill="#20202d"/>
<rect x="740.83" y="446.12" width="9.78" height="9.79" fill="#0e0e15"/>
<rect x="750.61" y="446.12" width="9.78" height="9.79" fill="#12121a"/>
<rect x="760.39" y="446.12" width="9.79" height="9.79" fill="#07070b"/>
<rect x="770.18" y="446.12" width="9.78" height="9.79" fill="#272737"/>
<rect x="310.29" y="455.90" width="9.78" height="9.78" fill="#0e0e15"/>
<rect x="320.07" y="455.90" width="9.79" height="9.78" fill="#1c1c28"/>
<rect x="329.86" y="455.90" width="9.78" height="9.78" fill="#0e0e15"/>
<rect x="339.64" y="455.90" width="9.79" height="9.78" fill="#0b0b10"/>
<rect x="349.43" y="455.90" width="9.78" height="9.78" fill="#040406"/>
<rect x="398.35" y="455.90" width="9.78" height="9.78" fill="#040406"/>
<rect x="408.13" y="455.90" width="9.79" height="9.78" fill="#15151f"/>
<rect x="417.92" y="455.90" width="9.78" height="9.78" fill="#2a2a3c"/>
<rect x="427.70" y="455.90" width="9.79" height="9.78" fill="#474763"/>
<rect x="437.49" y="455.90" width="9.78" height="9.78" fill="#4a4a68"/>
<rect x="447.27" y="455.90" width="9.79" height="9.78" fill="#788798"/>
<rect x="457.06" y="455.90" width="9.79" height="9.78" fill="#6e788e"/>
<rect x="466.85" y="455.90" width="9.78" height="9.78" fill="#7c8c9c"/>
<rect x="476.63" y="455.90" width="9.79" height="9.78" fill="#717d91"/>
<rect x="486.42" y="455.90" width="19.57" height="9.78" fill="#6e788e"/>
<rect x="505.99" y="455.90" width="19.57" height="9.78" fill="#98b3b8"/>
<rect x="525.56" y="455.90" width="39.14" height="9.78" fill="#8396a3"/>
<rect x="564.69" y="455.90" width="19.57" height="9.78" fill="#5c607c"/>
<rect x="584.26" y="455.90" width="9.78" height="9.78" fill="#474763"/>
<rect x="594.05" y="455.90" width="9.79" height="9.78" fill="#2e2e41"/>
<rect x="603.84" y="455.90" width="9.78" height="9.78" fill="#1c1c28"/>
<rect x="613.62" y="455.90" width="9.78" height="9.78" fill="#12121a"/>
<rect x="623.40" y="455.90" width="19.57" height="9.78" fill="#15151f"/>
<rect x="642.98" y="455.90" width="9.78" height="9.78" fill="#0e0e15"/>
<rect x="652.76" y="455.90" width="9.79" height="9.78" fill="#272737"/>
<rect x="662.55" y="455.90" width="9.78" height="9.78" fill="#191923"/>
<rect x="672.33" y="455.90" width="9.78" height="9.78" fill="#1c1c28"/>
<rect x="682.12" y="455.90" width="9.79" height="9.78" fill="#12121a"/>
<rect x="691.90" y="455.90" width="9.78" height="9.78" fill="#232332"/>
<rect x="701.68" y="455.90" width="9.79" height="9.78" fill="#20202d"/>
<rect x="711.47" y="455.90" width="19.57" height="9.78" fill="#2e2e41"/>
<rect x="731.04" y="455.90" width="9.79" height="9.78" fill="#1c1c28"/>
<rect x="740.83" y="455.90" width="9.78" height="9.78" fill="#0b0b10"/>
<rect x="750.61" y="455.90" width="9.78" height="9.78" fill="#0e0e15"/>
<rect x="760.39" y="455.90" width="9.79" height="9.78" fill="#07070b"/>
<rect x="770.18" y="455.90" width="9.78" height="9.78" fill="#232332"/>
<rect x="310.29" y="465.69" width="9.78" height="9.79" fill="#12121a"/>
<rect x="320.07" y="465.69" width="9.79" height="9.79" fill="#20202d"/>
<rect x="329.86" y="465.69" width="9.78" height="9.79" fill="#15151f"/>
<rect x="339.64" y="465.69" width="9.79" height="9.79" fill="#0e0e15"/>
<rect x="349.43" y="465.69" width="9.78" height="9.79" fill="#040406"/>
<rect x="388.56" y="465.69" width="9.79" height="9.79" fill="#040406"/>
<rect x="398.35" y="465.69" width="9.78" height="9.79" fill="#07070b"/>
<rect x="408.13" y="465.69" width="9.79" height="9.79" fill="#1c1c28"/>
<rect x="417.92" y="465.69" width="9.78" height="9.79" fill="#35354a"/>
<rect x="427.70" y="465.69" width="9.79" height="9.79" fill="#555675"/>
<rect x="437.49" y="465.69" width="9.78" height="9.79" fill="#4e4e6c"/>
<rect x="447.27" y="465.69" width="9.79" height="9.79" fill="#95aeb5"/>
<rect x="457.06" y="465.69" width="9.79" height="9.79" fill="#879ba6"/>
<rect x="466.85" y="465.69" width="9.78" height="9.79" fill="#8396a3"/>
<rect x="476.63" y="465.69" width="9.79" height="9.79" fill="#788798"/>
<rect x="486.42" y="465.69" width="9.79" height="9.79" fill="#676f87"/>
<rect x="496.20" y="465.69" width="9.78" height="9.79" fill="#636a83"/>
<rect x="505.99" y="465.69" width="19.57" height="9.79" fill="#8396a3"/>
<rect x="525.56" y="465.69" width="39.14" height="9.79" fill="#717d91"/>
<rect x="564.69" y="465.69" width="19.57" height="9.79" fill="#5c607c"/>
<rect x="584.26" y="465.69" width="9.78" height="9.79" fill="#4a4a68"/>
<rect x="594.05" y="465.69" width="9.79" height="9.79" fill="#323246"/>
<rect x="603.84" y="465.69" width="9.78" height="9.79" fill="#20202d"/>
<rect x="613.62" y="465.69" width="9.78" height="9.79" fill="#12121a"/>
<rect x="623.40" y="465.69" width="9.79" height="9.79" fill="#191923"/>
<rect x="633.19" y="465.69" width="9.78" height="9.79" fill="#15151f"/>
<rect x="642.98" y="465.69" width="9.78" height="9.79" fill="#0e0e15"/>
<rect x="652.76" y="465.69" width="9.79" height="9.79" fill="#232332"/>
<rect x="662.55" y="465.69" width="9.78" height="9.79" fill="#272737"/>
<rect x="672.33" y="465.69" width="9.78" height="9.79" fill="#20202d"/>
<rect x="682.12" y="465.69" width="9.79" height="9.79" fill="#15151f"/>
<rect x="691.90" y="465.69" width="9.78" height="9.79" fill="#2a2a3c"/>
<rect x="701.68" y="465.69" width="9.79" height="9.79" fill="#20202d"/>
<rect x="711.47" y="465.69" width="19.57" height="9.79" fill="#272737"/>
<rect x="731.04" y="465.69" width="9.79" height="9.79" fill="#15151f"/>
<rect x="740.83" y="465.69" width="19.57" height="9.79" fill="#0b0b10"/>
<rect x="760.39" y="465.69" width="9.79" height="9.79" fill="#040406"/>
<rect x="770.18" y="465.69" width="9.78" height="9.79" fill="#20202d"/>
<rect x="310.29" y="475.47" width="9.78" height="9.78" fill="#12121a"/>
<rect x="320.07" y="475.47" width="9.79" height="9.78" fill="#20202d"/>
<rect x="329.86" y="475.47" width="9.78" height="9.78" fill="#191923"/>
<rect x="339.64" y="475.47" width="9.79" height="9.78" fill="#12121a"/>
<rect x="349.43" y="475.47" width="9.78" height="9.78" fill="#040406"/>
<rect x="369.00" y="475.47" width="19.57" height="9.78" fill="#040406"/>
<rect x="388.56" y="475.47" width="9.79" height="9.78" fill="#0e0e15"/>
<rect x="398.35" y="475.47" width="9.78" height="9.78" fill="#12121a"/>
<rect x="408.13" y="475.47" width="9.79" height="9.78" fill="#2a2a3c"/>
<rect x="417.92" y="475.47" width="9.78" height="9.78" fill="#474763"/>
<rect x="427.70" y="475.47" width="9.79" height="9.78" fill="#606580"/>
<rect x="437.49" y="475.47" width="9.78" height="9.78" fill="#555675"/>
<rect x="447.27" y="475.47" width="9.79" height="9.78" fill="#9fbdbf"/>
<rect x="457.06" y="475.47" width="9.79" height="9.78" fill="#98b3b8"/>
<rect x="466.85" y="475.47" width="9.78" height="9.78" fill="#8396a3"/>
<rect x="476.63" y="475.47" width="9.79" height="9.78" fill="#788798"/>
<rect x="486.42" y="475.47" width="9.79" height="9.78" fill="#636a83"/>
<rect x="496.20" y="475.47" width="9.78" height="9.78" fill="#5c607c"/>
<rect x="505.99" y="475.47" width="19.57" height="9.78" fill="#6e788e"/>
<rect x="525.56" y="475.47" width="39.14" height="9.78" fill="#606580"/>
<rect x="564.69" y="475.47" width="19.57" height="9.78" fill="#555675"/>
<rect x="584.26" y="475.47" width="9.78" height="9.78" fill="#4e4e6c"/>
<rect x="594.05" y="475.47" width="9.79" height="9.78" fill="#35354a"/>
<rect x="603.84" y="475.47" width="9.78" height="9.78" fill="#272737"/>
<rect x="613.62" y="475.47" width="9.78" height="9.78" fill="#15151f"/>
<rect x="623.40" y="475.47" width="9.79" height="9.78" fill="#1c1c28"/>
<rect x="633.19" y="475.47" width="9.78" height="9.78" fill="#15151f"/>
<rect x="642.98" y="475.47" width="9.78" height="9.78" fill="#0e0e15"/>
<rect x="652.76" y="475.47" width="9.79" height="9.78" fill="#20202d"/>
<rect x="662.55" y="475.47" width="9.78" height="9.78" fill="#2a2a3c"/>
<rect x="672.33" y="475.47" width="9.78" height="9.78" fill="#20202d"/>
<rect x="682.12" y="475.47" width="9.79" height="9.78" fill="#15151f"/>
<rect x="691.90" y="475.47" width="9.78" height="9.78" fill="#323246"/>
<rect x="701.68" y="475.47" width="9.79" height="9.78" fill="#1c1c28"/>
<rect x="711.47" y="475.47" width="9.78" height="9.78" fill="#20202d"/>
<rect x="721.25" y="475.47" width="9.78" height="9.78" fill="#232332"/>
<rect x="731.04" y="475.47" width="9.79" height="9.78" fill="#12121a"/>
<rect x="740.83" y="475.47" width="19.57" height="9.78" fill="#07070b"/>
<rect x="760.39" y="475.47" width="9.79" height="9.78" fill="#040406"/>
<rect x="770.18" y="475.47" width="9.78" height="9.78" fill="#191923"/>
<rect x="310.29" y="485.25" width="9.78" height="9.79" fill="#15151f"/>
<rect x="320.07" y="485.25" width="9.79" height="9.79" fill="#20202d"/>
<rect x="329.86" y="485.25" width="9.78" height="9.79" fill="#1c1c28"/>
<rect x="339.64" y="485.25" width="9.79" height="9.79" fill="#15151f"/>
<rect x="349.43" y="485.25" width="19.57" height="9.79" fill="#040406"/>
<rect x="369.00" y="485.25" width="9.78" height="9.79" fill="#07070b"/>
<rect x="378.78" y="485.25" width="9.79" height="9.79" fill="#0e0e15"/>
<rect x="388.56" y="485.25" width="19.57" height="9.79" fill="#20202d"/>
<rect x="408.13" y="485.25" width="9.79" height="9.79" fill="#555675"/>
<rect x="417.92" y="485.25" width="9.78" height="9.79" fill="#4e4e6c"/>
<rect x="427.70" y="485.25" width="9.79" height="9.79" fill="#717d91"/>
<rect x="437.49" y="485.25" width="9.78" height="9.79" fill="#636a83"/>
<rect x="447.27" y="485.25" width="9.79" height="9.79" fill="#a3c1c3"/>
<rect x="457.06" y="485.25" width="9.79" height="9.79" fill="#9cb8bc"/>
<rect x="466.85" y="485.25" width="9.78" height="9.79" fill="#8396a3"/>
<rect x="476.63" y="485.25" width="9.79" height="9.79" fill="#788798"/>
<rect x="486.42" y="485.25" width="9.79" height="9.79" fill="#606580"/>
<rect x="496.20" y="485.25" width="9.78" height="9.79" fill="#4e4e6c"/>
<rect x="505.99" y="485.25" width="19.57" height="9.79" fill="#555675"/>
<rect x="525.56" y="485.25" width="39.14" height="9.79" fill="#4a4a68"/>
<rect x="564.69" y="485.25" width="19.57" height="9.79" fill="#515171"/>
<rect x="584.26" y="485.25" width="9.78" height="9.79" fill="#4e4e6c"/>
<rect x="594.05" y="485.25" width="9.79" height="9.79" fill="#3c3c54"/>
<rect x="603.84" y="485.25" width="9.78" height="9.79" fill="#323246"/>
<rect x="613.62" y="485.25" width="19.57" height="9.79" fill="#1c1c28"/>
<rect x="633.19" y="485.25" width="19.57" height="9.79" fill="#12121a"/>
<rect x="652.76" y="485.25" width="9.79" height="9.79" fill="#191923"/>
<rect x="662.55" y="485.25" width="9.78" height="9.79" fill="#2e2e41"/>
<rect x="672.33" y="485.25" width="9.78" height="9.79" fill="#1c1c28"/>
<rect x="682.12" y="485.25" width="9.79" height="9.79" fill="#15151f"/>
<rect x="691.90" y="485.25" width="9.78" height="9.79" fill="#2e2e41"/>
<rect x="701.68" y="485.25" width="9.79" height="9.79" fill="#191923"/>
<rect x="711.47" y="485.25" width="9.78" height="9.79" fill="#1c1c28"/>
<rect x="721.25" y="485.25" width="9.78" height="9.79" fill="#20202d"/>
<rect x="731.04" y="485.25" width="9.79" height="9.79" fill="#0e0e15"/>
<rect x="740.83" y="485.25" width="9.78" height="9.79" fill="#07070b"/>
<rect x="750.61" y="485.25" width="9.78" height="9.79" fill="#040406"/>
<rect x="770.18" y="485.25" width="9.78" height="9.79" fill="#15151f"/>
<rect x="310.29" y="495.04" width="9.78" height="9.78" fill="#15151f"/>
<rect x="320.07" y="495.04" width="9.79" height="9.78" fill="#1c1c28"/>
<rect x="329.86" y="495.04" width="9.78" height="9.78" fill="#20202d"/>
<rect x="339.64" y="495.04" width="9.79" height="9.78" fill="#191923"/>
<rect x="349.43" y="495.04" width="19.57" height="9.78" fill="#040406"/>
<rect x="369.00" y="495.04" width="9.78" height="9.78" fill="#0e0e15"/>
<rect x="378.78" y="495.04" width="9.79" height="9.78" fill="#15151f"/>
<rect x="388.56" y="495.04" width="19.57" height="9.78" fill="#35354a"/>
<rect x="408.13" y="495.04" width="9.79" height="9.78" fill="#788798"/>
<rect x="417.92" y="495.04" width="9.78" height="9.78" fill="#5c607c"/>
<rect x="427.70" y="495.04" width="9.79" height="9.78" fill="#7c8c9c"/>
<rect x="437.49" y="495.04" width="9.78" height="9.78" fill="#6e788e"/>
<rect x="447.27" y="495.04" width="9.79" height="9.78" fill="#a6c6c6"/>
<rect x="457.06" y="495.04" width="9.79" height="9.78" fill="#95aeb5"/>
<rect x="466.85" y="495.04" width="9.78" height="9.78" fill="#788798"/>
<rect x="476.63" y="495.04" width="9.79" height="9.78" fill="#6e788e"/>
<rect x="486.42" y="495.04" width="9.79" height="9.78" fill="#5c607c"/>
<rect x="496.20" y="495.04" width="9.78" height="9.78" fill="#4a4a68"/>
<rect x="505.99" y="495.04" width="19.57" height="9.78" fill="#3c3c54"/>
<rect x="525.56" y="495.04" width="39.14" height="9.78" fill="#35354a"/>
<rect x="564.69" y="495.04" width="19.57" height="9.78" fill="#474763"/>
<rect x="584.26" y="495.04" width="9.78" height="9.78" fill="#4a4a68"/>
<rect x="594.05" y="495.04" width="9.79" height="9.78" fill="#404059"/>
<rect x="603.84" y="495.04" width="9.78" height="9.78" fill="#35354a"/>
<rect x="613.62" y="495.04" width="19.57" height="9.78" fill="#20202d"/>
<rect x="633.19" y="495.04" width="19.57" height="9.78" fill="#12121a"/>
<rect x="652.76" y="495.04" width="9.79" height="9.78" fill="#15151f"/>
<rect x="662.55" y="495.04" width="9.78" height="9.78" fill="#2a2a3c"/>
<rect x="672.33" y="495.04" width="9.78" height="9.78" fill="#1c1c28"/>
<rect x="682.12" y="495.04" width="9.79" height="9.78" fill="#15151f"/>
<rect x="691.90" y="495.04" width="9.78" height="9.78" fill="#2a2a3c"/>
<rect x="701.68" y="495.04" width="19.57" height="9.78" fill="#15151f"/>
<rect x="721.25" y="495.04" width="9.78" height="9.78" fill="#20202d"/>
<rect x="731.04" y="495.04" width="9.79" height="9.78" fill="#0b0b10"/>
<rect x="740.83" y="495.04" width="9.78" height="9.78" fill="#07070b"/>
<rect x="750.61" y="495.04" width="9.78" height="9.78" fill="#040406"/>
<rect x="770.18" y="495.04" width="9.78" height="9.78" fill="#0e0e15"/>
<rect x="310.29" y="504.82" width="9.78" height="9.79" fill="#15151f"/>
<rect x="320.07" y="504.82" width="9.79" height="9.79" fill="#191923"/>
<rect x="329.86" y="504.82" width="9.78" height="9.79" fill="#232332"/>
<rect x="339.64" y="504.82" width="9.79" height="9.79" fill="#191923"/>
<rect x="349.43" y="504.82" width="9.78" height="9.79" fill="#040406"/>
<rect x="359.21" y="504.82" width="9.79" height="9.79" fill="#07070b"/>
<rect x="369.00" y="504.82" width="9.78" height="9.79" fill="#15151f"/>
<rect x="378.78" y="504.82" width="9.79" height="9.79" fill="#1c1c28"/>
<rect x="388.56" y="504.82" width="19.57" height="9.79" fill="#4e4e6c"/>
<rect x="408.13" y="504.82" width="9.79" height="9.79" fill="#95aeb5"/>
<rect x="417.92" y="504.82" width="9.78" height="9.79" fill="#606580"/>
<rect x="427.70" y="504.82" width="9.79" height="9.79" fill="#8396a3"/>
<rect x="437.49" y="504.82" width="9.78" height="9.79" fill="#788798"/>
<rect x="447.27" y="504.82" width="9.79" height="9.79" fill="#9fbdbf"/>
<rect x="457.06" y="504.82" width="9.79" height="9.79" fill="#8ea4ae"/>
<rect x="466.85" y="504.82" width="9.78" height="9.79" fill="#676f87"/>
<rect x="476.63" y="504.82" width="9.79" height="9.79" fill="#606580"/>
<rect x="486.42" y="504.82" width="9.79" height="9.79" fill="#4e4e6c"/>
<rect x="496.20" y="504.82" width="9.78" height="9.79" fill="#404059"/>
<rect x="505.99" y="504.82" width="19.57" height="9.79" fill="#2a2a3c"/>
<rect x="525.56" y="504.82" width="39.14" height="9.79" fill="#272737"/>
<rect x="564.69" y="504.82" width="19.57" height="9.79" fill="#3c3c54"/>
<rect x="584.26" y="504.82" width="9.78" height="9.79" fill="#474763"/>
<rect x="594.05" y="504.82" width="9.79" height="9.79" fill="#404059"/>
<rect x="603.84" y="504.82" width="9.78" height="9.79" fill="#3c3c54"/>
<rect x="613.62" y="504.82" width="9.78" height="9.79" fill="#232332"/>
<rect x="623.40" y="504.82" width="9.79" height="9.79" fill="#20202d"/>
<rect x="633.19" y="504.82" width="19.57" height="9.79" fill="#12121a"/>
<rect x="652.76" y="504.82" width="9.79" height="9.79" fill="#0b0b10"/>
<rect x="662.55" y="504.82" width="9.78" height="9.79" fill="#272737"/>
<rect x="672.33" y="504.82" width="9.78" height="9.79" fill="#191923"/>
<rect x="682.12" y="504.82" width="9.79" height="9.79" fill="#15151f"/>
<rect x="691.90" y="504.82" width="9.78" height="9.79" fill="#232332"/>
<rect x="701.68" y="504.82" width="19.57" height="9.79" fill="#12121a"/>
<rect x="721.25" y="504.82" width="9.78" height="9.79" fill="#1c1c28"/>
<rect x="731.04" y="504.82" width="9.79" height="9.79" fill="#07070b"/>
<rect x="740.83" y="504.82" width="9.78" height="9.79" fill="#040406"/>
<rect x="770.18" y="504.82" width="9.78" height="9.79" fill="#0b0b10"/>
<rect x="310.29" y="514.61" width="9.78" height="9.78" fill="#191923"/>
<rect x="320.07" y="514.61" width="9.79" height="9.78" fill="#15151f"/>
<rect x="329.86" y="514.61" width="9.78" height="9.78" fill="#2a2a3c"/>
<rect x="339.64" y="514.61" width="9.79" height="9.78" fill="#191923"/>
<rect x="349.43" y="514.61" width="9.78" height="9.78" fill="#07070b"/>
<rect x="359.21" y="514.61" width="9.79" height="9.78" fill="#12121a"/>
<rect x="369.00" y="514.61" width="9.78" height="9.78" fill="#20202d"/>
<rect x="378.78" y="514.61" width="9.79" height="9.78" fill="#323246"/>
<rect x="388.56" y="514.61" width="19.57" height="9.78" fill="#717d91"/>
<rect x="408.13" y="514.61" width="9.79" height="9.78" fill="#a6c6c6"/>
<rect x="417.92" y="514.61" width="9.78" height="9.78" fill="#606580"/>
<rect x="427.70" y="514.61" width="9.79" height="9.78" fill="#8396a3"/>
<rect x="437.49" y="514.61" width="9.78" height="9.78" fill="#717d91"/>
<rect x="447.27" y="514.61" width="9.79" height="9.78" fill="#8ea4ae"/>
<rect x="457.06" y="514.61" width="9.79" height="9.78" fill="#8396a3"/>
<rect x="466.85" y="514.61" width="9.78" height="9.78" fill="#555675"/>
<rect x="476.63" y="514.61" width="9.79" height="9.78" fill="#4e4e6c"/>
<rect x="486.42" y="514.61" width="9.79" height="9.78" fill="#404059"/>
<rect x="496.20" y="514.61" width="9.78" height="9.78" fill="#35354a"/>
<rect x="505.99" y="514.61" width="58.71" height="9.78" fill="#20202d"/>
<rect x="564.69" y="514.61" width="19.57" height="9.78" fill="#35354a"/>
<rect x="584.26" y="514.61" width="9.78" height="9.78" fill="#3c3c54"/>
<rect x="594.05" y="514.61" width="9.79" height="9.78" fill="#404059"/>
<rect x="603.84" y="514.61" width="9.78" height="9.78" fill="#3c3c54"/>
<rect x="613.62" y="514.61" width="9.78" height="9.78" fill="#232332"/>
<rect x="623.40" y="514.61" width="9.79" height="9.78" fill="#20202d"/>
<rect x="633.19" y="514.61" width="19.57" height="9.78" fill="#12121a"/>
<rect x="652.76" y="514.61" width="9.79" height="9.78" fill="#07070b"/>
<rect x="662.55" y="514.61" width="9.78" height="9.78" fill="#272737"/>
<rect x="672.33" y="514.61" width="9.78" height="9.78" fill="#191923"/>
<rect x="682.12" y="514.61" width="9.79" height="9.78" fill="#15151f"/>
<rect x="691.90" y="514.61" width="9.78" height="9.78" fill="#20202d"/>
<rect x="701.68" y="514.61" width="9.79" height="9.78" fill="#12121a"/>
<rect x="711.47" y="514.61" width="9.78" height="9.78" fill="#0e0e15"/>
<rect x="721.25" y="514.61" width="9.78" height="9.78" fill="#191923"/>
<rect x="731.04" y="514.61" width="9.79" height="9.78" fill="#07070b"/>
<rect x="740.83" y="514.61" width="9.78" height="9.78" fill="#040406"/>
<rect x="770.18" y="514.61" width="9.78" height="9.78" fill="#07070b"/>
<rect x="310.29" y="524.39" width="9.78" height="9.79" fill="#191923"/>
<rect x="320.07" y="524.39" width="9.79" height="9.79" fill="#15151f"/>
<rect x="329.86" y="524.39" width="9.78" height="9.79" fill="#2e2e41"/>
<rect x="339.64" y="524.39" width="9.79" height="9.79" fill="#1c1c28"/>
<rect x="349.43" y="524.39" width="9.78" height="9.79" fill="#0e0e15"/>
<rect x="359.21" y="524.39" width="9.79" height="9.79" fill="#1c1c28"/>
<rect x="369.00" y="524.39" width="9.78" height="9.79" fill="#323246"/>
<rect x="378.78" y="524.39" width="9.79" height="9.79" fill="#555675"/>
<rect x="388.56" y="524.39" width="9.79" height="9.79" fill="#95aeb5"/>
<rect x="398.35" y="524.39" width="9.78" height="9.79" fill="#8ea4ae"/>
<rect x="408.13" y="524.39" width="9.79" height="9.79" fill="#d3e3e3"/>
<rect x="417.92" y="524.39" width="9.78" height="9.79" fill="#606580"/>
<rect x="427.70" y="524.39" width="9.79" height="9.79" fill="#7c8c9c"/>
<rect x="437.49" y="524.39" width="9.78" height="9.79" fill="#676f87"/>
<rect x="447.27" y="524.39" width="9.79" height="9.79" fill="#788798"/>
<rect x="457.06" y="524.39" width="9.79" height="9.79" fill="#717d91"/>
<rect x="466.85" y="524.39" width="9.78" height="9.79" fill="#404059"/>
<rect x="476.63" y="524.39" width="9.79" height="9.79" fill="#3c3c54"/>
<rect x="486.42" y="524.39" width="9.79" height="9.79" fill="#35354a"/>
<rect x="496.20" y="524.39" width="9.78" height="9.79" fill="#2a2a3c"/>
<rect x="505.99" y="524.39" width="19.57" height="9.79" fill="#191923"/>
<rect x="525.56" y="524.39" width="39.14" height="9.79" fill="#15151f"/>
<rect x="564.69" y="524.39" width="19.57" height="9.79" fill="#2e2e41"/>
<rect x="584.26" y="524.39" width="9.78" height="9.79" fill="#35354a"/>
<rect x="594.05" y="524.39" width="19.57" height="9.79" fill="#3c3c54"/>
<rect x="613.62" y="524.39" width="9.78" height="9.79" fill="#272737"/>
<rect x="623.40" y="524.39" width="9.79" height="9.79" fill="#20202d"/>
<rect x="633.19" y="524.39" width="9.78" height="9.79" fill="#0e0e15"/>
<rect x="642.98" y="524.39" width="9.78" height="9.79" fill="#12121a"/>
<rect x="652.76" y="524.39" width="9.79" height="9.79" fill="#040406"/>
<rect x="662.55" y="524.39" width="9.78" height="9.79" fill="#20202d"/>
<rect x="672.33" y="524.39" width="9.78" height="9.79" fill="#15151f"/>
<rect x="682.12" y="524.39" width="9.79" height="9.79" fill="#12121a"/>
<rect x="691.90" y="524.39" width="9.78" height="9.79" fill="#1c1c28"/>
<rect x="701.68" y="524.39" width="9.79" height="9.79" fill="#0e0e15"/>
<rect x="711.47" y="524.39" width="9.78" height="9.79" fill="#0b0b10"/>
<rect x="721.25" y="524.39" width="9.78" height="9.79" fill="#15151f"/>
<rect x="731.04" y="524.39" width="19.57" height="9.79" fill="#040406"/>
<rect x="770.18" y="524.39" width="9.78" height="9.79" fill="#07070b"/>
<rect x="310.29" y="534.18" width="9.78" height="9.78" fill="#191923"/>
<rect x="320.07" y="534.18" width="9.79" height="9.78" fill="#15151f"/>
<rect x="329.86" y="534.18" width="9.78" height="9.78" fill="#2e2e41"/>
<rect x="339.64" y="534.18" width="9.79" height="9.78" fill="#20202d"/>
<rect x="349.43" y="534.18" width="9.78" height="9.78" fill="#191923"/>
<rect x="359.21" y="534.18" width="9.79" height="9.78" fill="#2a2a3c"/>
<rect x="369.00" y="534.18" width="9.78" height="9.78" fill="#474763"/>
<rect x="378.78" y="534.18" width="9.79" height="9.78" fill="#717d91"/>
<rect x="388.56" y="534.18" width="9.79" height="9.78" fill="#d8e6e6"/>
<rect x="398.35" y="534.18" width="9.78" height="9.78" fill="#a3c1c3"/>
<rect x="408.13" y="534.18" width="9.79" height="9.78" fill="#e3eded"/>
<rect x="417.92" y="534.18" width="19.57" height="9.78" fill="#5c607c"/>
<rect x="437.49" y="534.18" width="19.57" height="9.78" fill="#555675"/>
<rect x="457.06" y="534.18" width="9.79" height="9.78" fill="#5c607c"/>
<rect x="466.85" y="534.18" width="19.57" height="9.78" fill="#35354a"/>
<rect x="486.42" y="534.18" width="9.79" height="9.78" fill="#272737"/>
<rect x="496.20" y="534.18" width="9.78" height="9.78" fill="#1c1c28"/>
<rect x="505.99" y="534.18" width="19.57" height="9.78" fill="#191923"/>
<rect x="525.56" y="534.18" width="39.14" height="9.78" fill="#12121a"/>
<rect x="564.69" y="534.18" width="29.36" height="9.78" fill="#272737"/>
<rect x="594.05" y="534.18" width="19.57" height="9.78" fill="#39394f"/>
<rect x="613.62" y="534.18" width="9.78" height="9.78" fill="#232332"/>
<rect x="623.40" y="534.18" width="9.79" height="9.78" fill="#1c1c28"/>
<rect x="633.19" y="534.18" width="19.57" height="9.78" fill="#0e0e15"/>
<rect x="652.76" y="534.18" width="9.79" height="9.78" fill="#040406"/>
<rect x="662.55" y="534.18" width="9.78" height="9.78" fill="#1c1c28"/>
<rect x="672.33" y="534.18" width="9.78" height="9.78" fill="#15151f"/>
<rect x="682.12" y="534.18" width="9.79" height="9.78" fill="#12121a"/>
<rect x="691.90" y="534.18" width="9.78" height="9.78" fill="#191923"/>
<rect x="701.68" y="534.18" width="9.79" height="9.78" fill="#0e0e15"/>
<rect x="711.47" y="534.18" width="9.78" height="9.78" fill="#0b0b10"/>
<rect x="721.25" y="534.18" width="9.78" height="9.78" fill="#12121a"/>
<rect x="731.04" y="534.18" width="9.79" height="9.78" fill="#040406"/>
<rect x="770.18" y="534.18" width="9.78" height="9.78" fill="#040406"/>
<rect x="310.29" y="543.97" width="9.78" height="9.78" fill="#191923"/>
<rect x="320.07" y="543.97" width="9.79" height="9.78" fill="#15151f"/>
<rect x="329.86" y="543.97" width="9.78" height="9.78" fill="#2e2e41"/>
<rect x="339.64" y="543.97" width="19.57" height="9.78" fill="#2a2a3c"/>
<rect x="359.21" y="543.97" width="9.79" height="9.78" fill="#35354a"/>
<rect x="369.00" y="543.97" width="9.78" height="9.78" fill="#788798"/>
<rect x="378.78" y="543.97" width="9.79" height="9.78" fill="#7c8c9c"/>
<rect x="388.56" y="543.97" width="9.79" height="9.78" fill="#f9fbfb"/>
<rect x="398.35" y="543.97" width="19.57" height="9.78" fill="#d8e6e6"/>
<rect x="417.92" y="543.97" width="19.57" height="9.78" fill="#555675"/>
<rect x="437.49" y="543.97" width="9.78" height="9.78" fill="#4e4e6c"/>
<rect x="447.27" y="543.97" width="9.79" height="9.78" fill="#474763"/>
<rect x="457.06" y="543.97" width="9.79" height="9.78" fill="#43435e"/>
<rect x="466.85" y="543.97" width="19.57" height="9.78" fill="#272737"/>
<rect x="486.42" y="543.97" width="9.79" height="9.78" fill="#20202d"/>
<rect x="496.20" y="543.97" width="9.78" height="9.78" fill="#15151f"/>
<rect x="505.99" y="543.97" width="19.57" height="9.78" fill="#12121a"/>
<rect x="525.56" y="543.97" width="39.14" height="9.78" fill="#0b0b10"/>
<rect x="564.69" y="543.97" width="29.36" height="9.78" fill="#20202d"/>
<rect x="594.05" y="543.97" width="19.57" height="9.78" fill="#323246"/>
<rect x="613.62" y="543.97" width="9.78" height="9.78" fill="#20202d"/>
<rect x="623.40" y="543.97" width="9.79" height="9.78" fill="#1c1c28"/>
<rect x="633.19" y="543.97" width="19.57" height="9.78" fill="#0e0e15"/>
<rect x="652.76" y="543.97" width="9.79" height="9.78" fill="#040406"/>
<rect x="662.55" y="543.97" width="9.78" height="9.78" fill="#191923"/>
<rect x="672.33" y="543.97" width="9.78" height="9.78" fill="#12121a"/>
<rect x="682.12" y="543.97" width="9.79" height="9.78" fill="#0e0e15"/>
<rect x="691.90" y="543.97" width="9.78" height="9.78" fill="#15151f"/>
<rect x="701.68" y="543.97" width="9.79" height="9.78" fill="#0b0b10"/>
<rect x="711.47" y="543.97" width="9.78" height="9.78" fill="#07070b"/>
<rect x="721.25" y="543.97" width="9.78" height="9.78" fill="#0e0e15"/>
<rect x="731.04" y="543.97" width="9.79" height="9.78" fill="#040406"/>
<rect x="770.18" y="543.97" width="9.78" height="9.78" fill="#040406"/>
<rect x="310.29" y="553.75" width="9.78" height="9.79" fill="#191923"/>
<rect x="320.07" y="553.75" width="9.79" height="9.79" fill="#15151f"/>
<rect x="329.86" y="553.75" width="9.78" height="9.79" fill="#2e2e41"/>
<rect x="339.64" y="553.75" width="9.79" height="9.79" fill="#39394f"/>
<rect x="349.43" y="553.75" width="9.78" height="9.79" fill="#474763"/>
<rect x="359.21" y="553.75" width="9.79" height="9.79" fill="#6a748a"/>
<rect x="369.00" y="553.75" width="9.78" height="9.79" fill="#9fbdbf"/>
<rect x="378.78" y="553.75" width="9.79" height="9.79" fill="#98b3b8"/>
<rect x="388.56" y="553.75" width="9.79" height="9.79" fill="#ffffff"/>
<rect x="398.35" y="553.75" width="9.78" height="9.79" fill="#d3e3e3"/>
<rect x="408.13" y="553.75" width="9.79" height="9.79" fill="#accaca"/>
<rect x="417.92" y="553.75" width="29.35" height="9.79" fill="#474763"/>
<rect x="447.27" y="553.75" width="9.79" height="9.79" fill="#35354a"/>
<rect x="457.06" y="553.75" width="9.79" height="9.79" fill="#2a2a3c"/>
<rect x="466.85" y="553.75" width="19.57" height="9.79" fill="#1c1c28"/>
<rect x="486.42" y="553.75" width="9.79" height="9.79" fill="#15151f"/>
<rect x="496.20" y="553.75" width="29.36" height="9.79" fill="#0e0e15"/>
<rect x="525.56" y="553.75" width="39.14" height="9.79" fill="#040406"/>
<rect x="564.69" y="553.75" width="29.36" height="9.79" fill="#191923"/>
<rect x="594.05" y="553.75" width="19.57" height="9.79" fill="#272737"/>
<rect x="613.62" y="553.75" width="9.78" height="9.79" fill="#1c1c28"/>
<rect x="623.40" y="553.75" width="9.79" height="9.79" fill="#191923"/>
<rect x="633.19" y="553.75" width="9.78" height="9.79" fill="#0b0b10"/>
<rect x="642.98" y="553.75" width="9.78" height="9.79" fill="#0e0e15"/>
<rect x="652.76" y="553.75" width="9.79" height="9.79" fill="#040406"/>
<rect x="662.55" y="553.75" width="9.78" height="9.79" fill="#15151f"/>
<rect x="672.33" y="553.75" width="9.78" height="9.79" fill="#12121a"/>
<rect x="682.12" y="553.75" width="9.79" height="9.79" fill="#0b0b10"/>
<rect x="691.90" y="553.75" width="9.78" height="9.79" fill="#12121a"/>
<rect x="701.68" y="553.75" width="9.79" height="9.79" fill="#0b0b10"/>
<rect x="711.47" y="553.75" width="9.78" height="9.79" fill="#040406"/>
<rect x="721.25" y="553.75" width="9.78" height="9.79" fill="#0b0b10"/>
<rect x="731.04" y="553.75" width="9.79" height="9.79" fill="#040406"/>
<rect x="310.29" y="563.54" width="9.78" height="9.78" fill="#1c1c28"/>
<rect x="320.07" y="563.54" width="9.79" height="9.78" fill="#191923"/>
<rect x="329.86" y="563.54" width="9.78" height="9.78" fill="#323246"/>
<rect x="339.64" y="563.54" width="9.79" height="9.78" fill="#474763"/>
<rect x="349.43" y="563.54" width="9.78" height="9.78" fill="#80919f"/>
<rect x="359.21" y="563.54" width="9.79" height="9.78" fill="#a3c1c3"/>
<rect x="369.00" y="563.54" width="9.78" height="9.78" fill="#e3eded"/>
<rect x="378.78" y="563.54" width="9.79" height="9.78" fill="#a3c1c3"/>
<rect x="388.56" y="563.54" width="9.79" height="9.78" fill="#ffffff"/>
<rect x="398.35" y="563.54" width="9.78" height="9.78" fill="#cddfdf"/>
<rect x="408.13" y="563.54" width="9.79" height="9.78" fill="#879ba6"/>
<rect x="417.92" y="563.54" width="29.35" height="9.78" fill="#323246"/>
<rect x="447.27" y="563.54" width="9.79" height="9.78" fill="#20202d"/>
<rect x="457.06" y="563.54" width="9.79" height="9.78" fill="#1c1c28"/>
<rect x="466.85" y="563.54" width="19.57" height="9.78" fill="#15151f"/>
<rect x="486.42" y="563.54" width="9.79" height="9.78" fill="#12121a"/>
<rect x="496.20" y="563.54" width="29.36" height="9.78" fill="#0b0b10"/>
<rect x="525.56" y="563.54" width="39.14" height="9.78" fill="#040406"/>
<rect x="564.69" y="563.54" width="29.36" height="9.78" fill="#12121a"/>
<rect x="594.05" y="563.54" width="19.57" height="9.78" fill="#1c1c28"/>
<rect x="613.62" y="563.54" width="19.57" height="9.78" fill="#15151f"/>
<rect x="633.19" y="563.54" width="9.78" height="9.78" fill="#0b0b10"/>
<rect x="642.98" y="563.54" width="9.78" height="9.78" fill="#0e0e15"/>
<rect x="652.76" y="563.54" width="9.79" height="9.78" fill="#040406"/>
<rect x="662.55" y="563.54" width="9.78" height="9.78" fill="#15151f"/>
<rect x="672.33" y="563.54" width="9.78" height="9.78" fill="#0e0e15"/>
<rect x="682.12" y="563.54" width="9.79" height="9.78" fill="#0b0b10"/>
<rect x="691.90" y="563.54" width="9.78" height="9.78" fill="#12121a"/>
<rect x="701.68" y="563.54" width="9.79" height="9.78" fill="#0b0b10"/>
<rect x="721.25" y="563.54" width="19.57" height="9.78" fill="#040406"/>
<rect x="310.29" y="573.32" width="19.57" height="9.79" fill="#20202d"/>
<rect x="329.86" y="573.32" width="9.78" height="9.79" fill="#404059"/>
<rect x="339.64" y="573.32" width="9.79" height="9.79" fill="#6a748a"/>
<rect x="349.43" y="573.32" width="9.78" height="9.79" fill="#a3c1c3"/>
<rect x="359.21" y="573.32" width="9.79" height="9.79" fill="#d3e3e3"/>
<rect x="369.00" y="573.32" width="9.78" height="9.79" fill="#ffffff"/>
<rect x="378.78" y="573.32" width="9.79" height="9.79" fill="#a3c1c3"/>
<rect x="388.56" y="573.32" width="9.79" height="9.79" fill="#f4f8f8"/>
<rect x="398.35" y="573.32" width="9.78" height="9.79" fill="#9cb8bc"/>
<rect x="408.13" y="573.32" width="9.79" height="9.79" fill="#6e788e"/>
<rect x="417.92" y="573.32" width="29.35" height="9.79" fill="#20202d"/>
<rect x="447.27" y="573.32" width="9.79" height="9.79" fill="#191923"/>
<rect x="457.06" y="573.32" width="19.57" height="9.79" fill="#12121a"/>
<rect x="476.63" y="573.32" width="19.57" height="9.79" fill="#0b0b10"/>
<rect x="496.20" y="573.32" width="9.78" height="9.79" fill="#07070b"/>
<rect x="505.99" y="573.32" width="19.57" height="9.79" fill="#0b0b10"/>
<rect x="564.69" y="573.32" width="29.36" height="9.79" fill="#0e0e15"/>
<rect x="594.05" y="573.32" width="19.57" height="9.79" fill="#15151f"/>
<rect x="613.62" y="573.32" width="19.57" height="9.79" fill="#12121a"/>
<rect x="633.19" y="573.32" width="9.78" height="9.79" fill="#07070b"/>
<rect x="642.98" y="573.32" width="9.78" height="9.79" fill="#0b0b10"/>
<rect x="652.76" y="573.32" width="9.79" height="9.79" fill="#040406"/>
<rect x="662.55" y="573.32" width="9.78" height="9.79" fill="#12121a"/>
<rect x="672.33" y="573.32" width="9.78" height="9.79" fill="#0b0b10"/>
<rect x="682.12" y="573.32" width="9.79" height="9.79" fill="#07070b"/>
<rect x="691.90" y="573.32" width="9.78" height="9.79" fill="#12121a"/>
<rect x="701.68" y="573.32" width="9.79" height="9.79" fill="#0b0b10"/>
<rect x="310.29" y="583.11" width="9.78" height="9.78" fill="#232332"/>
<rect x="320.07" y="583.11" width="9.79" height="9.78" fill="#2e2e41"/>
<rect x="329.86" y="583.11" width="9.78" height="9.78" fill="#515171"/>
<rect x="339.64" y="583.11" width="9.79" height="9.78" fill="#8ea4ae"/>
<rect x="349.43" y="583.11" width="9.78" height="9.78" fill="#d8e6e6"/>
<rect x="359.21" y="583.11" width="19.57" height="9.78" fill="#ffffff"/>
<rect x="378.78" y="583.11" width="9.79" height="9.78" fill="#98b3b8"/>
<rect x="388.56" y="583.11" width="9.79" height="9.78" fill="#cddfdf"/>
<rect x="398.35" y="583.11" width="9.78" height="9.78" fill="#788798"/>
<rect x="408.13" y="583.11" width="9.79" height="9.78" fill="#555675"/>
<rect x="417.92" y="583.11" width="29.35" height="9.78" fill="#191923"/>
<rect x="447.27" y="583.11" width="9.79" height="9.78" fill="#12121a"/>
<rect x="457.06" y="583.11" width="9.79" height="9.78" fill="#0b0b10"/>
<rect x="466.85" y="583.11" width="9.78" height="9.78" fill="#0e0e15"/>
<rect x="476.63" y="583.11" width="19.57" height="9.78" fill="#07070b"/>
<rect x="496.20" y="583.11" width="9.78" height="9.78" fill="#040406"/>
<rect x="505.99" y="583.11" width="19.57" height="9.78" fill="#07070b"/>
<rect x="564.69" y="583.11" width="29.36" height="9.78" fill="#0b0b10"/>
<rect x="594.05" y="583.11" width="9.79" height="9.78" fill="#0e0e15"/>
<rect x="603.84" y="583.11" width="9.78" height="9.78" fill="#12121a"/>
<rect x="613.62" y="583.11" width="19.57" height="9.78" fill="#0e0e15"/>
<rect x="633.19" y="583.11" width="9.78" height="9.78" fill="#07070b"/>
<rect x="642.98" y="583.11" width="9.78" height="9.78" fill="#0b0b10"/>
<rect x="652.76" y="583.11" width="9.79" height="9.78" fill="#040406"/>
<rect x="662.55" y="583.11" width="9.78" height="9.78" fill="#0e0e15"/>
<rect x="672.33" y="583.11" width="9.78" height="9.78" fill="#07070b"/>
<rect x="682.12" y="583.11" width="9.79" height="9.78" fill="#0b0b10"/>
<rect x="691.90" y="583.11" width="9.78" height="9.78" fill="#15151f"/>
<rect x="701.68" y="583.11" width="9.79" height="9.78" fill="#12121a"/>
<rect x="310.29" y="592.89" width="9.78" height="9.79" fill="#272737"/>
<rect x="320.07" y="592.89" width="9.79" height="9.79" fill="#3c3c54"/>
<rect x="329.86" y="592.89" width="9.78" height="9.79" fill="#6a748a"/>
<rect x="339.64" y="592.89" width="9.79" height="9.79" fill="#a3c1c3"/>
<rect x="349.43" y="592.89" width="9.78" height="9.79" fill="#f9fbfb"/>
<rect x="359.21" y="592.89" width="9.79" height="9.79" fill="#ffffff"/>
<rect x="369.00" y="592.89" width="9.78" height="9.79" fill="#f9fbfb"/>
<rect x="378.78" y="592.89" width="9.79" height="9.79" fill="#879ba6"/>
<rect x="388.56" y="592.89" width="9.79" height="9.79" fill="#9cb8bc"/>
<rect x="398.35" y="592.89" width="9.78" height="9.79" fill="#6a748a"/>
<rect x="408.13" y="592.89" width="9.79" height="9.79" fill="#35354a"/>
<rect x="417.92" y="592.89" width="29.35" height="9.79" fill="#12121a"/>
<rect x="447.27" y="592.89" width="9.79" height="9.79" fill="#0e0e15"/>
<rect x="457.06" y="592.89" width="19.57" height="9.79" fill="#07070b"/>
<rect x="476.63" y="592.89" width="9.79" height="9.79" fill="#040406"/>
<rect x="486.42" y="592.89" width="9.79" height="9.79" fill="#07070b"/>
<rect x="496.20" y="592.89" width="9.78" height="9.79" fill="#040406"/>
<rect x="505.99" y="592.89" width="19.57" height="9.79" fill="#07070b"/>
<rect x="564.69" y="592.89" width="29.36" height="9.79" fill="#07070b"/>
<rect x="594.05" y="592.89" width="39.14" height="9.79" fill="#0b0b10"/>
<rect x="633.19" y="592.89" width="9.78" height="9.79" fill="#040406"/>
<rect x="642.98" y="592.89" width="9.78" height="9.79" fill="#0b0b10"/>
<rect x="652.76" y="592.89" width="9.79" height="9.79" fill="#040406"/>
<rect x="662.55" y="592.89" width="9.78" height="9.79" fill="#0b0b10"/>
<rect x="672.33" y="592.89" width="9.78" height="9.79" fill="#07070b"/>
<rect x="682.12" y="592.89" width="9.79" height="9.79" fill="#0b0b10"/>
<rect x="691.90" y="592.89" width="9.78" height="9.79" fill="#15151f"/>
<rect x="701.68" y="592.89" width="9.79" height="9.79" fill="#12121a"/>
<rect x="310.29" y="602.68" width="9.78" height="9.78" fill="#2a2a3c"/>
<rect x="320.07" y="602.68" width="9.79" height="9.78" fill="#555675"/>
<rect x="329.86" y="602.68" width="9.78" height="9.78" fill="#6e788e"/>
<rect x="339.64" y="602.68" width="9.79" height="9.78" fill="#c2d8d8"/>
<rect x="349.43" y="602.68" width="19.57" height="9.78" fill="#ffffff"/>
<rect x="369.00" y="602.68" width="9.78" height="9.78" fill="#e3eded"/>
<rect x="378.78" y="602.68" width="9.79" height="9.78" fill="#6e788e"/>
<rect x="388.56" y="602.68" width="9.79" height="9.78" fill="#6a748a"/>
<rect x="398.35" y="602.68" width="9.78" height="9.78" fill="#4e4e6c"/>
<rect x="408.13" y="602.68" width="9.79" height="9.78" fill="#272737"/>
<rect x="417.92" y="602.68" width="19.57" height="9.78" fill="#0b0b10"/>
<rect x="437.49" y="602.68" width="19.57" height="9.78" fill="#07070b"/>
<rect x="457.06" y="602.68" width="19.57" height="9.78" fill="#040406"/>
<rect x="486.42" y="602.68" width="9.79" height="9.78" fill="#040406"/>
<rect x="505.99" y="602.68" width="19.57" height="9.78" fill="#07070b"/>
<rect x="584.26" y="602.68" width="9.78" height="9.78" fill="#040406"/>
<rect x="594.05" y="602.68" width="19.57" height="9.78" fill="#07070b"/>
<rect x="613.62" y="602.68" width="9.78" height="9.78" fill="#040406"/>
<rect x="623.40" y="602.68" width="9.79" height="9.78" fill="#07070b"/>
<rect x="633.19" y="602.68" width="9.78" height="9.78" fill="#040406"/>
<rect x="642.98" y="602.68" width="9.78" height="9.78" fill="#0b0b10"/>
<rect x="652.76" y="602.68" width="9.79" height="9.78" fill="#040406"/>
<rect x="662.55" y="602.68" width="9.78" height="9.78" fill="#07070b"/>
<rect x="672.33" y="602.68" width="9.78" height="9.78" fill="#040406"/>
<rect x="682.12" y="602.68" width="9.79" height="9.78" fill="#07070b"/>
<rect x="691.90" y="602.68" width="19.57" height="9.78" fill="#0e0e15"/>
<rect x="310.29" y="612.46" width="9.78" height="9.78" fill="#272737"/>
<rect x="320.07" y="612.46" width="9.79" height="9.78" fill="#676f87"/>
<rect x="329.86" y="612.46" width="9.78" height="9.78" fill="#879ba6"/>
<rect x="339.64" y="612.46" width="9.79" height="9.78" fill="#b7d1d1"/>
<rect x="349.43" y="612.46" width="9.78" height="9.78" fill="#ffffff"/>
<rect x="359.21" y="612.46" width="9.79" height="9.78" fill="#deeaea"/>
<rect x="369.00" y="612.46" width="9.78" height="9.78" fill="#a3c1c3"/>
<rect x="378.78" y="612.46" width="9.79" height="9.78" fill="#555675"/>
<rect x="388.56" y="612.46" width="9.79" height="9.78" fill="#4a4a68"/>
<rect x="398.35" y="612.46" width="9.78" height="9.78" fill="#35354a"/>
<rect x="408.13" y="612.46" width="9.79" height="9.78" fill="#191923"/>
<rect x="417.92" y="612.46" width="39.14" height="9.78" fill="#07070b"/>
<rect x="457.06" y="612.46" width="19.57" height="9.78" fill="#040406"/>
<rect x="486.42" y="612.46" width="9.79" height="9.78" fill="#040406"/>
<rect x="505.99" y="612.46" width="19.57" height="9.78" fill="#07070b"/>
<rect x="584.26" y="612.46" width="9.78" height="9.78" fill="#040406"/>
<rect x="594.05" y="612.46" width="9.79" height="9.78" fill="#07070b"/>
<rect x="603.84" y="612.46" width="19.57" height="9.78" fill="#040406"/>
<rect x="623.40" y="612.46" width="9.79" height="9.78" fill="#07070b"/>
<rect x="633.19" y="612.46" width="9.78" height="9.78" fill="#040406"/>
<rect x="642.98" y="612.46" width="9.78" height="9.78" fill="#07070b"/>
<rect x="652.76" y="612.46" width="29.36" height="9.78" fill="#040406"/>
<rect x="682.12" y="612.46" width="9.79" height="9.78" fill="#07070b"/>
<rect x="691.90" y="612.46" width="9.78" height="9.78" fill="#12121a"/>
<rect x="701.68" y="612.46" width="9.79" height="9.78" fill="#0e0e15"/>
<rect x="310.29" y="622.25" width="9.78" height="9.78" fill="#232332"/>
<rect x="320.07" y="622.25" width="9.79" height="9.78" fill="#6e788e"/>
<rect x="329.86" y="622.25" width="9.78" height="9.78" fill="#8a9faa"/>
<rect x="339.64" y="622.25" width="9.79" height="9.78" fill="#b2cdcd"/>
<rect x="349.43" y="622.25" width="9.78" height="9.78" fill="#d3e3e3"/>
<rect x="359.21" y="622.25" width="9.79" height="9.78" fill="#a3c1c3"/>
<rect x="369.00" y="622.25" width="9.78" height="9.78" fill="#758295"/>
<rect x="378.78" y="622.25" width="19.57" height="9.78" fill="#323246"/>
<rect x="398.35" y="622.25" width="9.78" height="9.78" fill="#272737"/>
<rect x="408.13" y="622.25" width="9.79" height="9.78" fill="#12121a"/>
<rect x="417.92" y="622.25" width="9.78" height="9.78" fill="#07070b"/>
<rect x="427.70" y="622.25" width="29.36" height="9.78" fill="#040406"/>
<rect x="486.42" y="622.25" width="9.79" height="9.78" fill="#040406"/>
<rect x="505.99" y="622.25" width="19.57" height="9.78" fill="#040406"/>
<rect x="584.26" y="622.25" width="19.57" height="9.78" fill="#040406"/>
<rect x="623.40" y="622.25" width="19.57" height="9.78" fill="#040406"/>
<rect x="642.98" y="622.25" width="9.78" height="9.78" fill="#07070b"/>
<rect x="652.76" y="622.25" width="29.36" height="9.78" fill="#040406"/>
<rect x="682.12" y="622.25" width="9.79" height="9.78" fill="#07070b"/>
<rect x="691.90" y="622.25" width="9.78" height="9.78" fill="#0e0e15"/>
<rect x="701.68" y="622.25" width="9.79" height="9.78" fill="#0b0b10"/>
<rect x="310.29" y="632.03" width="9.78" height="9.79" fill="#20202d"/>
<rect x="320.07" y="632.03" width="9.79" height="9.79" fill="#758295"/>
<rect x="329.86" y="632.03" width="9.78" height="9.79" fill="#8396a3"/>
<rect x="339.64" y="632.03" width="9.79" height="9.79" fill="#9cb8bc"/>
<rect x="349.43" y="632.03" width="9.78" height="9.79" fill="#a3c1c3"/>
<rect x="359.21" y="632.03" width="9.79" height="9.79" fill="#788798"/>
<rect x="369.00" y="632.03" width="9.78" height="9.79" fill="#555675"/>
<rect x="378.78" y="632.03" width="9.79" height="9.79" fill="#272737"/>
<rect x="388.56" y="632.03" width="19.57" height="9.79" fill="#1c1c28"/>
<rect x="408.13" y="632.03" width="9.79" height="9.79" fill="#0e0e15"/>
<rect x="417.92" y="632.03" width="39.14" height="9.79" fill="#040406"/>
<rect x="486.42" y="632.03" width="9.79" height="9.79" fill="#040406"/>
<rect x="505.99" y="632.03" width="19.57" height="9.79" fill="#040406"/>
<rect x="594.05" y="632.03" width="9.79" height="9.79" fill="#040406"/>
<rect x="613.62" y="632.03" width="29.36" height="9.79" fill="#040406"/>
<rect x="642.98" y="632.03" width="9.78" height="9.79" fill="#07070b"/>
<rect x="652.76" y="632.03" width="29.36" height="9.79" fill="#040406"/>
<rect x="682.12" y="632.03" width="9.79" height="9.79" fill="#07070b"/>
<rect x="691.90" y="632.03" width="9.78" height="9.79" fill="#0b0b10"/>
<rect x="701.68" y="632.03" width="9.79" height="9.79" fill="#07070b"/>
<rect x="310.29" y="641.82" width="9.78" height="9.78" fill="#191923"/>
<rect x="320.07" y="641.82" width="19.57" height="9.78" fill="#6e788e"/>
<rect x="339.64" y="641.82" width="19.57" height="9.78" fill="#717d91"/>
<rect x="359.21" y="641.82" width="9.79" height="9.78" fill="#5c607c"/>
<rect x="369.00" y="641.82" width="9.78" height="9.78" fill="#35354a"/>
<rect x="378.78" y="641.82" width="9.79" height="9.78" fill="#191923"/>
<rect x="388.56" y="641.82" width="19.57" height="9.78" fill="#15151f"/>
<rect x="408.13" y="641.82" width="9.79" height="9.78" fill="#0b0b10"/>
<rect x="417.92" y="641.82" width="9.78" height="9.78" fill="#040406"/>
<rect x="447.27" y="641.82" width="9.79" height="9.78" fill="#040406"/>
<rect x="594.05" y="641.82" width="9.79" height="9.78" fill="#040406"/>
<rect x="623.40" y="641.82" width="19.57" height="9.78" fill="#040406"/>
<rect x="642.98" y="641.82" width="9.78" height="9.78" fill="#07070b"/>
<rect x="672.33" y="641.82" width="9.78" height="9.78" fill="#040406"/>
<rect x="682.12" y="641.82" width="9.79" height="9.78" fill="#07070b"/>
<rect x="691.90" y="641.82" width="9.78" height="9.78" fill="#0b0b10"/>
<rect x="701.68" y="641.82" width="9.79" height="9.78" fill="#07070b"/>
<rect x="310.29" y="651.60" width="9.78" height="9.78" fill="#12121a"/>
<rect x="320.07" y="651.60" width="9.79" height="9.78" fill="#5c607c"/>
<rect x="329.86" y="651.60" width="9.78" height="9.78" fill="#515171"/>
<rect x="339.64" y="651.60" width="9.79" height="9.78" fill="#555675"/>
<rect x="349.43" y="651.60" width="9.78" height="9.78" fill="#515171"/>
<rect x="359.21" y="651.60" width="9.79" height="9.78" fill="#35354a"/>
<rect x="369.00" y="651.60" width="9.78" height="9.78" fill="#20202d"/>
<rect x="378.78" y="651.60" width="9.79" height="9.78" fill="#12121a"/>
<rect x="388.56" y="651.60" width="19.57" height="9.78" fill="#0e0e15"/>
<rect x="408.13" y="651.60" width="9.79" height="9.78" fill="#040406"/>
<rect x="447.27" y="651.60" width="9.79" height="9.78" fill="#040406"/>
<rect x="633.19" y="651.60" width="19.57" height="9.78" fill="#040406"/>
<rect x="682.12" y="651.60" width="9.79" height="9.78" fill="#040406"/>
<rect x="691.90" y="651.60" width="19.57" height="9.78" fill="#07070b"/>
<rect x="310.29" y="661.38" width="9.78" height="9.79" fill="#0e0e15"/>
<rect x="320.07" y="661.38" width="9.79" height="9.79" fill="#515171"/>
<rect x="329.86" y="661.38" width="9.78" height="9.79" fill="#404059"/>
<rect x="339.64" y="661.38" width="9.79" height="9.79" fill="#3c3c54"/>
<rect x="349.43" y="661.38" width="9.78" height="9.79" fill="#35354a"/>
<rect x="359.21" y="661.38" width="9.79" height="9.79" fill="#20202d"/>
<rect x="369.00" y="661.38" width="9.78" height="9.79" fill="#15151f"/>
<rect x="378.78" y="661.38" width="29.36" height="9.79" fill="#0b0b10"/>
<rect x="408.13" y="661.38" width="9.79" height="9.79" fill="#040406"/>
<rect x="642.98" y="661.38" width="9.78" height="9.79" fill="#040406"/>
<rect x="682.12" y="661.38" width="9.79" height="9.79" fill="#040406"/>
<rect x="691.90" y="661.38" width="9.78" height="9.79" fill="#07070b"/>
<rect x="701.68" y="661.38" width="9.79" height="9.79" fill="#040406"/>
<rect x="310.29" y="671.17" width="9.78" height="9.78" fill="#0b0b10"/>
<rect x="320.07" y="671.17" width="9.79" height="9.78" fill="#3c3c54"/>
<rect x="329.86" y="671.17" width="9.78" height="9.78" fill="#2a2a3c"/>
<rect x="339.64" y="671.17" width="9.79" height="9.78" fill="#272737"/>
<rect x="349.43" y="671.17" width="9.78" height="9.78" fill="#232332"/>
<rect x="359.21" y="671.17" width="9.79" height="9.78" fill="#15151f"/>
<rect x="369.00" y="671.17" width="9.78" height="9.78" fill="#0e0e15"/>
<rect x="378.78" y="671.17" width="29.36" height="9.78" fill="#07070b"/>
<rect x="642.98" y="671.17" width="9.78" height="9.78" fill="#040406"/>
<rect x="691.90" y="671.17" width="19.57" height="9.78" fill="#040406"/>
<rect x="310.29" y="680.96" width="9.78" height="9.78" fill="#07070b"/>
<rect x="320.07" y="680.96" width="9.79" height="9.78" fill="#2a2a3c"/>
<rect x="329.86" y="680.96" width="9.78" height="9.78" fill="#1c1c28"/>
<rect x="339.64" y="680.96" width="9.79" height="9.78" fill="#191923"/>
<rect x="349.43" y="680.96" width="9.78" height="9.78" fill="#15151f"/>
<rect x="359.21" y="680.96" width="9.79" height="9.78" fill="#0b0b10"/>
<rect x="369.00" y="680.96" width="9.78" height="9.78" fill="#07070b"/>
<rect x="378.78" y="680.96" width="19.57" height="9.78" fill="#040406"/>
<rect x="398.35" y="680.96" width="9.78" height="9.78" fill="#07070b"/>
<rect x="310.29" y="690.74" width="9.78" height="9.78" fill="#040406"/>
<rect x="320.07" y="690.74" width="9.79" height="9.78" fill="#1c1c28"/>
<rect x="329.86" y="690.74" width="9.78" height="9.78" fill="#15151f"/>
<rect x="339.64" y="690.74" width="9.79" height="9.78" fill="#12121a"/>
<rect x="349.43" y="690.74" width="9.78" height="9.78" fill="#0e0e15"/>
<rect x="359.21" y="690.74" width="9.79" height="9.78" fill="#07070b"/>
<rect x="369.00" y="690.74" width="9.78" height="9.78" fill="#040406"/>
<rect x="398.35" y="690.74" width="9.78" height="9.78" fill="#040406"/>
<rect x="320.07" y="700.52" width="9.79" height="9.79" fill="#12121a"/>
<rect x="329.86" y="700.52" width="19.57" height="9.79" fill="#0b0b10"/>
<rect x="349.43" y="700.52" width="9.78" height="9.79" fill="#07070b"/>
<rect x="359.21" y="700.52" width="9.79" height="9.79" fill="#040406"/>
<rect x="320.07" y="710.31" width="9.79" height="9.78" fill="#0e0e15"/>
<rect x="329.86" y="710.31" width="9.78" height="9.78" fill="#07070b"/>
<rect x="339.64" y="710.31" width="19.57" height="9.78" fill="#040406"/>
<rect x="320.07" y="720.10" width="9.79" height="9.78" fill="#0b0b10"/>
<rect x="320.07" y="729.88" width="9.79" height="9.79" fill="#040406"/>
</g>
<g shape-rendering="crispEdges"><rect x="300" y="64" width="490" height="1" fill="#262626"/><rect x="300" y="779" width="490" height="1" fill="#262626"/><rect x="300" y="64" width="1" height="716" fill="#262626"/><rect x="789" y="64" width="1" height="716" fill="#262626"/></g>
<g><rect x="309" y="65" width="1" height="6.5" fill="#262626"/><rect x="309" y="772.5" width="1" height="6.5" fill="#262626"/><rect x="319" y="65" width="1" height="3.5" fill="#262626"/><rect x="319" y="775.5" width="1" height="3.5" fill="#262626"/><rect x="329" y="65" width="1" height="3.5" fill="#262626"/><rect x="329" y="775.5" width="1" height="3.5" fill="#262626"/><rect x="339" y="65" width="1" height="3.5" fill="#262626"/><rect x="339" y="775.5" width="1" height="3.5" fill="#262626"/><rect x="349" y="65" width="1" height="3.5" fill="#262626"/><rect x="349" y="775.5" width="1" height="3.5" fill="#262626"/><rect x="358" y="65" width="1" height="3.5" fill="#262626"/><rect x="358" y="775.5" width="1" height="3.5" fill="#262626"/><rect x="368" y="65" width="1" height="6.5" fill="#262626"/><rect x="368" y="772.5" width="1" height="6.5" fill="#262626"/><rect x="378" y="65" width="1" height="3.5" fill="#262626"/><rect x="378" y="775.5" width="1" height="3.5" fill="#262626"/><rect x="388" y="65" width="1" height="3.5" fill="#262626"/><rect x="388" y="775.5" width="1" height="3.5" fill="#262626"/><rect x="397" y="65" width="1" height="3.5" fill="#262626"/><rect x="397" y="775.5" width="1" height="3.5" fill="#262626"/><rect x="407" y="65" width="1" height="3.5" fill="#262626"/><rect x="407" y="775.5" width="1" height="3.5" fill="#262626"/><rect x="417" y="65" width="1" height="3.5" fill="#262626"/><rect x="417" y="775.5" width="1" height="3.5" fill="#262626"/><rect x="427" y="65" width="1" height="6.5" fill="#262626"/><rect x="427" y="772.5" width="1" height="6.5" fill="#262626"/><rect x="437" y="65" width="1" height="3.5" fill="#262626"/><rect x="437" y="775.5" width="1" height="3.5" fill="#262626"/><rect x="446" y="65" width="1" height="3.5" fill="#262626"/><rect x="446" y="775.5" width="1" height="3.5" fill="#262626"/><rect x="456" y="65" width="1" height="3.5" fill="#262626"/><rect x="456" y="775.5" width="1" height="3.5" fill="#262626"/><rect x="466" y="65" width="1" height="3.5" fill="#262626"/><rect x="466" y="775.5" width="1" height="3.5" fill="#262626"/><rect x="476" y="65" width="1" height="3.5" fill="#262626"/><rect x="476" y="775.5" width="1" height="3.5" fill="#262626"/><rect x="486" y="65" width="1" height="6.5" fill="#262626"/><rect x="486" y="772.5" width="1" height="6.5" fill="#262626"/><rect x="495" y="65" width="1" height="3.5" fill="#262626"/><rect x="495" y="775.5" width="1" height="3.5" fill="#262626"/><rect x="505" y="65" width="1" height="3.5" fill="#262626"/><rect x="505" y="775.5" width="1" height="3.5" fill="#262626"/><rect x="515" y="65" width="1" height="3.5" fill="#262626"/><rect x="515" y="775.5" width="1" height="3.5" fill="#262626"/><rect x="525" y="65" width="1" height="3.5" fill="#262626"/><rect x="525" y="775.5" width="1" height="3.5" fill="#262626"/><rect x="534" y="65" width="1" height="3.5" fill="#262626"/><rect x="534" y="775.5" width="1" height="3.5" fill="#262626"/><rect x="544" y="65" width="1" height="6.5" fill="#262626"/><rect x="544" y="772.5" width="1" height="6.5" fill="#262626"/><rect x="554" y="65" width="1" height="3.5" fill="#262626"/><rect x="554" y="775.5" width="1" height="3.5" fill="#262626"/><rect x="564" y="65" width="1" height="3.5" fill="#262626"/><rect x="564" y="775.5" width="1" height="3.5" fill="#262626"/><rect x="574" y="65" width="1" height="3.5" fill="#262626"/><rect x="574" y="775.5" width="1" height="3.5" fill="#262626"/><rect x="583" y="65" width="1" height="3.5" fill="#262626"/><rect x="583" y="775.5" width="1" height="3.5" fill="#262626"/><rect x="593" y="65" width="1" height="3.5" fill="#262626"/><rect x="593" y="775.5" width="1" height="3.5" fill="#262626"/><rect x="603" y="65" width="1" height="6.5" fill="#262626"/><rect x="603" y="772.5" width="1" height="6.5" fill="#262626"/><rect x="613" y="65" width="1" height="3.5" fill="#262626"/><rect x="613" y="775.5" width="1" height="3.5" fill="#262626"/><rect x="623" y="65" width="1" height="3.5" fill="#262626"/><rect x="623" y="775.5" width="1" height="3.5" fill="#262626"/><rect x="632" y="65" width="1" height="3.5" fill="#262626"/><rect x="632" y="775.5" width="1" height="3.5" fill="#262626"/><rect x="642" y="65" width="1" height="3.5" fill="#262626"/><rect x="642" y="775.5" width="1" height="3.5" fill="#262626"/><rect x="652" y="65" width="1" height="3.5" fill="#262626"/><rect x="652" y="775.5" width="1" height="3.5" fill="#262626"/><rect x="662" y="65" width="1" height="6.5" fill="#262626"/><rect x="662" y="772.5" width="1" height="6.5" fill="#262626"/><rect x="671" y="65" width="1" height="3.5" fill="#262626"/><rect x="671" y="775.5" width="1" height="3.5" fill="#262626"/><rect x="681" y="65" width="1" height="3.5" fill="#262626"/><rect x="681" y="775.5" width="1" height="3.5" fill="#262626"/><rect x="691" y="65" width="1" height="3.5" fill="#262626"/><rect x="691" y="775.5" width="1" height="3.5" fill="#262626"/><rect x="701" y="65" width="1" height="3.5" fill="#262626"/><rect x="701" y="775.5" width="1" height="3.5" fill="#262626"/><rect x="711" y="65" width="1" height="3.5" fill="#262626"/><rect x="711" y="775.5" width="1" height="3.5" fill="#262626"/><rect x="720" y="65" width="1" height="6.5" fill="#262626"/><rect x="720" y="772.5" width="1" height="6.5" fill="#262626"/><rect x="730" y="65" width="1" height="3.5" fill="#262626"/><rect x="730" y="775.5" width="1" height="3.5" fill="#262626"/><rect x="740" y="65" width="1" height="3.5" fill="#262626"/><rect x="740" y="775.5" width="1" height="3.5" fill="#262626"/><rect x="750" y="65" width="1" height="3.5" fill="#262626"/><rect x="750" y="775.5" width="1" height="3.5" fill="#262626"/><rect x="760" y="65" width="1" height="3.5" fill="#262626"/><rect x="760" y="775.5" width="1" height="3.5" fill="#262626"/><rect x="769" y="65" width="1" height="3.5" fill="#262626"/><rect x="769" y="775.5" width="1" height="3.5" fill="#262626"/><rect x="779" y="65" width="1" height="6.5" fill="#262626"/><rect x="779" y="772.5" width="1" height="6.5" fill="#262626"/><rect x="301" y="769" width="3.5" height="1" fill="#262626"/><rect x="785.5" y="769" width="3.5" height="1" fill="#262626"/><rect x="301" y="759" width="3.5" height="1" fill="#262626"/><rect x="785.5" y="759" width="3.5" height="1" fill="#262626"/><rect x="301" y="749" width="3.5" height="1" fill="#262626"/><rect x="785.5" y="749" width="3.5" height="1" fill="#262626"/><rect x="301" y="739" width="3.5" height="1" fill="#262626"/><rect x="785.5" y="739" width="3.5" height="1" fill="#262626"/><rect x="301" y="729" width="3.5" height="1" fill="#262626"/><rect x="785.5" y="729" width="3.5" height="1" fill="#262626"/><rect x="301" y="720" width="3.5" height="1" fill="#262626"/><rect x="785.5" y="720" width="3.5" height="1" fill="#262626"/><rect x="301" y="710" width="6.5" height="1" fill="#262626"/><rect x="782.5" y="710" width="6.5" height="1" fill="#262626"/><rect x="301" y="700" width="3.5" height="1" fill="#262626"/><rect x="785.5" y="700" width="3.5" height="1" fill="#262626"/><rect x="301" y="690" width="3.5" height="1" fill="#262626"/><rect x="785.5" y="690" width="3.5" height="1" fill="#262626"/><rect x="301" y="680" width="3.5" height="1" fill="#262626"/><rect x="785.5" y="680" width="3.5" height="1" fill="#262626"/><rect x="301" y="671" width="3.5" height="1" fill="#262626"/><rect x="785.5" y="671" width="3.5" height="1" fill="#262626"/><rect x="301" y="661" width="3.5" height="1" fill="#262626"/><rect x="785.5" y="661" width="3.5" height="1" fill="#262626"/><rect x="301" y="651" width="6.5" height="1" fill="#262626"/><rect x="782.5" y="651" width="6.5" height="1" fill="#262626"/><rect x="301" y="641" width="3.5" height="1" fill="#262626"/><rect x="785.5" y="641" width="3.5" height="1" fill="#262626"/><rect x="301" y="632" width="3.5" height="1" fill="#262626"/><rect x="785.5" y="632" width="3.5" height="1" fill="#262626"/><rect x="301" y="622" width="3.5" height="1" fill="#262626"/><rect x="785.5" y="622" width="3.5" height="1" fill="#262626"/><rect x="301" y="612" width="3.5" height="1" fill="#262626"/><rect x="785.5" y="612" width="3.5" height="1" fill="#262626"/><rect x="301" y="602" width="3.5" height="1" fill="#262626"/><rect x="785.5" y="602" width="3.5" height="1" fill="#262626"/><rect x="301" y="592" width="6.5" height="1" fill="#262626"/><rect x="782.5" y="592" width="6.5" height="1" fill="#262626"/><rect x="301" y="583" width="3.5" height="1" fill="#262626"/><rect x="785.5" y="583" width="3.5" height="1" fill="#262626"/><rect x="301" y="573" width="3.5" height="1" fill="#262626"/><rect x="785.5" y="573" width="3.5" height="1" fill="#262626"/><rect x="301" y="563" width="3.5" height="1" fill="#262626"/><rect x="785.5" y="563" width="3.5" height="1" fill="#262626"/><rect x="301" y="553" width="3.5" height="1" fill="#262626"/><rect x="785.5" y="553" width="3.5" height="1" fill="#262626"/><rect x="301" y="543" width="3.5" height="1" fill="#262626"/><rect x="785.5" y="543" width="3.5" height="1" fill="#262626"/><rect x="301" y="534" width="6.5" height="1" fill="#262626"/><rect x="782.5" y="534" width="6.5" height="1" fill="#262626"/><rect x="301" y="524" width="3.5" height="1" fill="#262626"/><rect x="785.5" y="524" width="3.5" height="1" fill="#262626"/><rect x="301" y="514" width="3.5" height="1" fill="#262626"/><rect x="785.5" y="514" width="3.5" height="1" fill="#262626"/><rect x="301" y="504" width="3.5" height="1" fill="#262626"/><rect x="785.5" y="504" width="3.5" height="1" fill="#262626"/><rect x="301" y="495" width="3.5" height="1" fill="#262626"/><rect x="785.5" y="495" width="3.5" height="1" fill="#262626"/><rect x="301" y="485" width="3.5" height="1" fill="#262626"/><rect x="785.5" y="485" width="3.5" height="1" fill="#262626"/><rect x="301" y="475" width="6.5" height="1" fill="#262626"/><rect x="782.5" y="475" width="6.5" height="1" fill="#262626"/><rect x="301" y="465" width="3.5" height="1" fill="#262626"/><rect x="785.5" y="465" width="3.5" height="1" fill="#262626"/><rect x="301" y="455" width="3.5" height="1" fill="#262626"/><rect x="785.5" y="455" width="3.5" height="1" fill="#262626"/><rect x="301" y="446" width="3.5" height="1" fill="#262626"/><rect x="785.5" y="446" width="3.5" height="1" fill="#262626"/><rect x="301" y="436" width="3.5" height="1" fill="#262626"/><rect x="785.5" y="436" width="3.5" height="1" fill="#262626"/><rect x="301" y="426" width="3.5" height="1" fill="#262626"/><rect x="785.5" y="426" width="3.5" height="1" fill="#262626"/><rect x="301" y="416" width="6.5" height="1" fill="#262626"/><rect x="782.5" y="416" width="6.5" height="1" fill="#262626"/><rect x="301" y="406" width="3.5" height="1" fill="#262626"/><rect x="785.5" y="406" width="3.5" height="1" fill="#262626"/><rect x="301" y="397" width="3.5" height="1" fill="#262626"/><rect x="785.5" y="397" width="3.5" height="1" fill="#262626"/><rect x="301" y="387" width="3.5" height="1" fill="#262626"/><rect x="785.5" y="387" width="3.5" height="1" fill="#262626"/><rect x="301" y="377" width="3.5" height="1" fill="#262626"/><rect x="785.5" y="377" width="3.5" height="1" fill="#262626"/><rect x="301" y="367" width="3.5" height="1" fill="#262626"/><rect x="785.5" y="367" width="3.5" height="1" fill="#262626"/><rect x="301" y="358" width="6.5" height="1" fill="#262626"/><rect x="782.5" y="358" width="6.5" height="1" fill="#262626"/><rect x="301" y="348" width="3.5" height="1" fill="#262626"/><rect x="785.5" y="348" width="3.5" height="1" fill="#262626"/><rect x="301" y="338" width="3.5" height="1" fill="#262626"/><rect x="785.5" y="338" width="3.5" height="1" fill="#262626"/><rect x="301" y="328" width="3.5" height="1" fill="#262626"/><rect x="785.5" y="328" width="3.5" height="1" fill="#262626"/><rect x="301" y="318" width="3.5" height="1" fill="#262626"/><rect x="785.5" y="318" width="3.5" height="1" fill="#262626"/><rect x="301" y="309" width="3.5" height="1" fill="#262626"/><rect x="785.5" y="309" width="3.5" height="1" fill="#262626"/><rect x="301" y="299" width="6.5" height="1" fill="#262626"/><rect x="782.5" y="299" width="6.5" height="1" fill="#262626"/><rect x="301" y="289" width="3.5" height="1" fill="#262626"/><rect x="785.5" y="289" width="3.5" height="1" fill="#262626"/><rect x="301" y="279" width="3.5" height="1" fill="#262626"/><rect x="785.5" y="279" width="3.5" height="1" fill="#262626"/><rect x="301" y="269" width="3.5" height="1" fill="#262626"/><rect x="785.5" y="269" width="3.5" height="1" fill="#262626"/><rect x="301" y="260" width="3.5" height="1" fill="#262626"/><rect x="785.5" y="260" width="3.5" height="1" fill="#262626"/><rect x="301" y="250" width="3.5" height="1" fill="#262626"/><rect x="785.5" y="250" width="3.5" height="1" fill="#262626"/><rect x="301" y="240" width="6.5" height="1" fill="#262626"/><rect x="782.5" y="240" width="6.5" height="1" fill="#262626"/><rect x="301" y="230" width="3.5" height="1" fill="#262626"/><rect x="785.5" y="230" width="3.5" height="1" fill="#262626"/><rect x="301" y="221" width="3.5" height="1" fill="#262626"/><rect x="785.5" y="221" width="3.5" height="1" fill="#262626"/><rect x="301" y="211" width="3.5" height="1" fill="#262626"/><rect x="785.5" y="211" width="3.5" height="1" fill="#262626"/><rect x="301" y="201" width="3.5" height="1" fill="#262626"/><rect x="785.5" y="201" width="3.5" height="1" fill="#262626"/><rect x="301" y="191" width="3.5" height="1" fill="#262626"/><rect x="785.5" y="191" width="3.5" height="1" fill="#262626"/><rect x="301" y="181" width="6.5" height="1" fill="#262626"/><rect x="782.5" y="181" width="6.5" height="1" fill="#262626"/><rect x="301" y="172" width="3.5" height="1" fill="#262626"/><rect x="785.5" y="172" width="3.5" height="1" fill="#262626"/><rect x="301" y="162" width="3.5" height="1" fill="#262626"/><rect x="785.5" y="162" width="3.5" height="1" fill="#262626"/><rect x="301" y="152" width="3.5" height="1" fill="#262626"/><rect x="785.5" y="152" width="3.5" height="1" fill="#262626"/><rect x="301" y="142" width="3.5" height="1" fill="#262626"/><rect x="785.5" y="142" width="3.5" height="1" fill="#262626"/><rect x="301" y="132" width="3.5" height="1" fill="#262626"/><rect x="785.5" y="132" width="3.5" height="1" fill="#262626"/><rect x="301" y="123" width="6.5" height="1" fill="#262626"/><rect x="782.5" y="123" width="6.5" height="1" fill="#262626"/><rect x="301" y="113" width="3.5" height="1" fill="#262626"/><rect x="785.5" y="113" width="3.5" height="1" fill="#262626"/><rect x="301" y="103" width="3.5" height="1" fill="#262626"/><rect x="785.5" y="103" width="3.5" height="1" fill="#262626"/><rect x="301" y="93" width="3.5" height="1" fill="#262626"/><rect x="785.5" y="93" width="3.5" height="1" fill="#262626"/><rect x="301" y="84" width="3.5" height="1" fill="#262626"/><rect x="785.5" y="84" width="3.5" height="1" fill="#262626"/><rect x="301" y="74" width="3.5" height="1" fill="#262626"/><rect x="785.5" y="74" width="3.5" height="1" fill="#262626"/></g>
<text x="309.39" y="808.00" font-family='"Liberation Sans", sans-serif' font-size="21.2" font-weight="normal" fill="#262626" text-anchor="middle" textLength="33.00" lengthAdjust="spacingAndGlyphs">-30</text>
<text x="368.10" y="808.00" font-family='"Liberation Sans", sans-serif' font-size="21.2" font-weight="normal" fill="#262626" text-anchor="middle" textLength="12.90" lengthAdjust="spacingAndGlyphs">0</text>
<text x="426.81" y="808.00" font-family='"Liberation Sans", sans-serif' font-size="21.2" font-weight="normal" fill="#262626" text-anchor="middle" textLength="25.80" lengthAdjust="spacingAndGlyphs">30</text>
<text x="485.52" y="808.00" font-family='"Liberation Sans", sans-serif' font-size="21.2" font-weight="normal" fill="#262626" text-anchor="middle" textLength="25.80" lengthAdjust="spacingAndGlyphs">60</text>
<text x="544.23" y="808.00" font-family='"Liberation Sans", sans-serif' font-size="21.2" font-weight="normal" fill="#262626" text-anchor="middle" textLength="25.80" lengthAdjust="spacingAndGlyphs">90</text>
<text x="602.94" y="808.00" font-family='"Liberation Sans", sans-serif' font-size="21.2" font-weight="normal" fill="#262626" text-anchor="middle" textLength="38.70" lengthAdjust="spacingAndGlyphs">120</text>
<text x="661.65" y="808.00" font-family='"Liberation Sans", sans-serif' font-size="21.2" font-weight="normal" fill="#262626" text-anchor="middle" textLength="38.70" lengthAdjust="spacingAndGlyphs">150</text>
<text x="720.36" y="808.00" font-family='"Liberation Sans", sans-serif' font-size="21.2" font-weight="normal" fill="#262626" text-anchor="middle" textLength="38.70" lengthAdjust="spacingAndGlyphs">180</text>
<text x="779.07" y="808.00" font-family='"Liberation Sans", sans-serif' font-size="21.2" font-weight="normal" fill="#262626" text-anchor="middle" textLength="38.70" lengthAdjust="spacingAndGlyphs">210</text>
<text x="290.30" y="717.71" font-family='"Liberation Sans", sans-serif' font-size="21.2" font-weight="normal" fill="#262626" text-anchor="end" textLength="33.00" lengthAdjust="spacingAndGlyphs">-60</text>
<text x="290.30" y="659.00" font-family='"Liberation Sans", sans-serif' font-size="21.2" font-weight="normal" fill="#262626" text-anchor="end" textLength="33.00" lengthAdjust="spacingAndGlyphs">-30</text>
<text x="290.30" y="600.29" font-family='"Liberation Sans", sans-serif' font-size="21.2" font-weight="normal" fill="#262626" text-anchor="end" textLength="12.90" lengthAdjust="spacingAndGlyphs">0</text>
<text x="290.30" y="541.58" font-family='"Liberation Sans", sans-serif' font-size="21.2" font-weight="normal" fill="#262626" text-anchor="end" textLength="25.80" lengthAdjust="spacingAndGlyphs">30</text>
<text x="290.30" y="482.87" font-family='"Liberation Sans", sans-serif' font-size="21.2" font-weight="normal" fill="#262626" text-anchor="end" textLength="25.80" lengthAdjust="spacingAndGlyphs">60</text>
<text x="290.30" y="424.16" font-family='"Liberation Sans", sans-serif' font-size="21.2" font-weight="normal" fill="#262626" text-anchor="end" textLength="25.80" lengthAdjust="spacingAndGlyphs">90</text>
<text x="290.30" y="365.45" font-family='"Liberation Sans", sans-serif' font-size="21.2" font-weight="normal" fill="#262626" text-anchor="end" textLength="39.86" lengthAdjust="spacingAndGlyphs">120</text>
<text x="290.30" y="306.74" font-family='"Liberation Sans", sans-serif' font-size="21.2" font-weight="normal" fill="#262626" text-anchor="end" textLength="39.86" lengthAdjust="spacingAndGlyphs">150</text>
<text x="290.30" y="248.03" font-family='"Liberation Sans", sans-serif' font-size="21.2" font-weight="normal" fill="#262626" text-anchor="end" textLength="39.86" lengthAdjust="spacingAndGlyphs">180</text>
<text x="290.30" y="189.32" font-family='"Liberation Sans", sans-serif' font-size="21.2" font-weight="normal" fill="#262626" text-anchor="end" textLength="39.86" lengthAdjust="spacingAndGlyphs">210</text>
<text x="290.30" y="130.61" font-family='"Liberation Sans", sans-serif' font-size="21.2" font-weight="normal" fill="#262626" text-anchor="end" textLength="39.86" lengthAdjust="spacingAndGlyphs">240</text>
<text x="436.00" y="839.90" font-family='"Liberation Sans", sans-serif' font-size="23.4" font-weight="normal" fill="#262626" text-anchor="start" textLength="216.50" lengthAdjust="spacingAndGlyphs">Target Angle (deg)</text>
<g transform="translate(237.9,546.8) rotate(-90)"><text x="0.00" y="0.00" font-family='"Liberation Sans", sans-serif' font-size="23.4" font-weight="normal" fill="#262626" text-anchor="start" textLength="250.00" lengthAdjust="spacingAndGlyphs">Response Angle (deg)</text></g>
<text x="431.60" y="42.20" font-family='"Liberation Sans", sans-serif' font-size="24.0" font-weight="bold" fill="#000000" text-anchor="start" textLength="103.50" lengthAdjust="spacingAndGlyphs">NH33, C</text>
<text x="536.00" y="51.60" font-family='"Liberation Sans", sans-serif' font-size="18.6" font-weight="bold" fill="#000000" text-anchor="start" textLength="45.00" lengthAdjust="spacingAndGlyphs">OHC</text>
<text x="589.50" y="42.20" font-family='"Liberation Sans", sans-serif' font-size="24.0" font-weight="bold" fill="#000000" text-anchor="start" textLength="17.50" lengthAdjust="spacingAndGlyphs">=</text>
<text x="617.00" y="42.20" font-family='"Liberation Sans", sans-serif' font-size="24.0" font-weight="bold" fill="#000000" text-anchor="start" textLength="40.00" lengthAdjust="spacingAndGlyphs">0.4</text>
<g shape-rendering="crispEdges"><rect x="821.5" y="768.33" width="41.0" height="11.17" fill="#000001"/><rect x="821.5" y="757.16" width="41.0" height="11.17" fill="#040406"/><rect x="821.5" y="745.98" width="41.0" height="11.17" fill="#07070b"/><rect x="821.5" y="734.81" width="41.0" height="11.17" fill="#0b0b10"/><rect x="821.5" y="723.64" width="41.0" height="11.17" fill="#0e0e15"/><rect x="821.5" y="712.47" width="41.0" height="11.17" fill="#12121a"/><rect x="821.5" y="701.30" width="41.0" height="11.17" fill="#15151f"/><rect x="821.5" y="690.12" width="41.0" height="11.17" fill="#191923"/><rect x="821.5" y="678.95" width="41.0" height="11.17" fill="#1c1c28"/><rect x="821.5" y="667.78" width="41.0" height="11.17" fill="#20202d"/><rect x="821.5" y="656.61" width="41.0" height="11.17" fill="#232332"/><rect x="821.5" y="645.44" width="41.0" height="11.17" fill="#272737"/><rect x="821.5" y="634.27" width="41.0" height="11.17" fill="#2a2a3c"/><rect x="821.5" y="623.09" width="41.0" height="11.17" fill="#2e2e41"/><rect x="821.5" y="611.92" width="41.0" height="11.17" fill="#323246"/><rect x="821.5" y="600.75" width="41.0" height="11.17" fill="#35354a"/><rect x="821.5" y="589.58" width="41.0" height="11.17" fill="#39394f"/><rect x="821.5" y="578.41" width="41.0" height="11.17" fill="#3c3c54"/><rect x="821.5" y="567.23" width="41.0" height="11.17" fill="#404059"/><rect x="821.5" y="556.06" width="41.0" height="11.17" fill="#43435e"/><rect x="821.5" y="544.89" width="41.0" height="11.17" fill="#474763"/><rect x="821.5" y="533.72" width="41.0" height="11.17" fill="#4a4a68"/><rect x="821.5" y="522.55" width="41.0" height="11.17" fill="#4e4e6c"/><rect x="821.5" y="511.38" width="41.0" height="11.17" fill="#515171"/><rect x="821.5" y="500.20" width="41.0" height="11.17" fill="#555675"/><rect x="821.5" y="489.03" width="41.0" height="11.17" fill="#595b78"/><rect x="821.5" y="477.86" width="41.0" height="11.17" fill="#5c607c"/><rect x="821.5" y="466.69" width="41.0" height="11.17" fill="#606580"/><rect x="821.5" y="455.52" width="41.0" height="11.17" fill="#636a83"/><rect x="821.5" y="444.34" width="41.0" height="11.17" fill="#676f87"/><rect x="821.5" y="433.17" width="41.0" height="11.17" fill="#6a748a"/><rect x="821.5" y="422.00" width="41.0" height="11.17" fill="#6e788e"/><rect x="821.5" y="410.83" width="41.0" height="11.17" fill="#717d91"/><rect x="821.5" y="399.66" width="41.0" height="11.17" fill="#758295"/><rect x="821.5" y="388.48" width="41.0" height="11.17" fill="#788798"/><rect x="821.5" y="377.31" width="41.0" height="11.17" fill="#7c8c9c"/><rect x="821.5" y="366.14" width="41.0" height="11.17" fill="#80919f"/><rect x="821.5" y="354.97" width="41.0" height="11.17" fill="#8396a3"/><rect x="821.5" y="343.80" width="41.0" height="11.17" fill="#879ba6"/><rect x="821.5" y="332.62" width="41.0" height="11.17" fill="#8a9faa"/><rect x="821.5" y="321.45" width="41.0" height="11.17" fill="#8ea4ae"/><rect x="821.5" y="310.28" width="41.0" height="11.17" fill="#91a9b1"/><rect x="821.5" y="299.11" width="41.0" height="11.17" fill="#95aeb5"/><rect x="821.5" y="287.94" width="41.0" height="11.17" fill="#98b3b8"/><rect x="821.5" y="276.77" width="41.0" height="11.17" fill="#9cb8bc"/><rect x="821.5" y="265.59" width="41.0" height="11.17" fill="#9fbdbf"/><rect x="821.5" y="254.42" width="41.0" height="11.17" fill="#a3c1c3"/><rect x="821.5" y="243.25" width="41.0" height="11.17" fill="#a6c6c6"/><rect x="821.5" y="232.08" width="41.0" height="11.17" fill="#accaca"/><rect x="821.5" y="220.91" width="41.0" height="11.17" fill="#b2cdcd"/><rect x="821.5" y="209.73" width="41.0" height="11.17" fill="#b7d1d1"/><rect x="821.5" y="198.56" width="41.0" height="11.17" fill="#bdd4d4"/><rect x="821.5" y="187.39" width="41.0" height="11.17" fill="#c2d8d8"/><rect x="821.5" y="176.22" width="41.0" height="11.17" fill="#c8dcdc"/><rect x="821.5" y="165.05" width="41.0" height="11.17" fill="#cddfdf"/><rect x="821.5" y="153.88" width="41.0" height="11.17" fill="#d3e3e3"/><rect x="821.5" y="142.70" width="41.0" height="11.17" fill="#d8e6e6"/><rect x="821.5" y="131.53" width="41.0" height="11.17" fill="#deeaea"/><rect x="821.5" y="120.36" width="41.0" height="11.17" fill="#e3eded"/><rect x="821.5" y="109.19" width="41.0" height="11.17" fill="#e9f1f1"/><rect x="821.5" y="98.02" width="41.0" height="11.17" fill="#eef4f4"/><rect x="821.5" y="86.84" width="41.0" height="11.17" fill="#f4f8f8"/><rect x="821.5" y="75.67" width="41.0" height="11.17" fill="#f9fbfb"/><rect x="821.5" y="64.50" width="41.0" height="11.17" fill="#ffffff"/></g>
<rect x="821.5" y="64.5" width="41.0" height="715.0" fill="none" stroke="#262626" stroke-width="1"/>
<rect x="855" y="779" width="7" height="1" fill="#262626" shape-rendering="crispEdges"/>
<text x="871.20" y="784.50" font-family='"Liberation Sans", sans-serif' font-size="19.0" font-weight="normal" fill="#262626" text-anchor="start" textLength="11.60" lengthAdjust="spacingAndGlyphs">0</text>
<rect x="855" y="708" width="7" height="1" fill="#262626" shape-rendering="crispEdges"/>
<text x="871.20" y="713.12" font-family='"Liberation Sans", sans-serif' font-size="19.0" font-weight="normal" fill="#262626" text-anchor="start" textLength="40.70" lengthAdjust="spacingAndGlyphs">0.01</text>
<rect x="855" y="636" width="7" height="1" fill="#262626" shape-rendering="crispEdges"/>
<text x="871.20" y="641.74" font-family='"Liberation Sans", sans-serif' font-size="19.0" font-weight="normal" fill="#262626" text-anchor="start" textLength="40.70" lengthAdjust="spacingAndGlyphs">0.02</text>
<rect x="855" y="564" width="7" height="1" fill="#262626" shape-rendering="crispEdges"/>
<text x="871.20" y="570.36" font-family='"Liberation Sans", sans-serif' font-size="19.0" font-weight="normal" fill="#262626" text-anchor="start" textLength="40.70" lengthAdjust="spacingAndGlyphs">0.03</text>
<rect x="855" y="493" width="7" height="1" fill="#262626" shape-rendering="crispEdges"/>
<text x="871.20" y="498.98" font-family='"Liberation Sans", sans-serif' font-size="19.0" font-weight="normal" fill="#262626" text-anchor="start" textLength="40.70" lengthAdjust="spacingAndGlyphs">0.04</text>
<rect x="855" y="422" width="7" height="1" fill="#262626" shape-rendering="crispEdges"/>
<text x="871.20" y="427.60" font-family='"Liberation Sans", sans-serif' font-size="19.0" font-weight="normal" fill="#262626" text-anchor="start" textLength="40.70" lengthAdjust="spacingAndGlyphs">0.05</text>
<rect x="855" y="350" width="7" height="1" fill="#262626" shape-rendering="crispEdges"/>
<text x="871.20" y="356.22" font-family='"Liberation Sans", sans-serif' font-size="19.0" font-weight="normal" fill="#262626" text-anchor="start" textLength="40.70" lengthAdjust="spacingAndGlyphs">0.06</text>
<rect x="855" y="278" width="7" height="1" fill="#262626" shape-rendering="crispEdges"/>
<text x="871.20" y="284.84" font-family='"Liberation Sans", sans-serif' font-size="19.0" font-weight="normal" fill="#262626" text-anchor="start" textLength="40.70" lengthAdjust="spacingAndGlyphs">0.07</text>
<rect x="855" y="207" width="7" height="1" fill="#262626" shape-rendering="crispEdges"/>
<text x="871.20" y="213.46" font-family='"Liberation Sans", sans-serif' font-size="19.0" font-weight="normal" fill="#262626" text-anchor="start" textLength="40.70" lengthAdjust="spacingAndGlyphs">0.08</text>
<rect x="855" y="136" width="7" height="1" fill="#262626" shape-rendering="crispEdges"/>
<text x="871.20" y="142.08" font-family='"Liberation Sans", sans-serif' font-size="19.0" font-weight="normal" fill="#262626" text-anchor="start" textLength="40.70" lengthAdjust="spacingAndGlyphs">0.09</text>
<rect x="855" y="64" width="7" height="1" fill="#262626" shape-rendering="crispEdges"/>
<text x="871.20" y="70.70" font-family='"Liberation Sans", sans-serif' font-size="19.0" font-weight="normal" fill="#262626" text-anchor="start" textLength="29.10" lengthAdjust="spacingAndGlyphs">0.1</text>
<g transform="translate(939.7,490.9) rotate(-90)"><text x="0.00" y="0.00" font-family='"Liberation Sans", sans-serif' font-size="19.1" font-weight="normal" fill="#262626" text-anchor="start" textLength="127.00" lengthAdjust="spacingAndGlyphs">Probability / 5</text></g>
<circle cx="928.9" cy="355.2" r="2.5" fill="none" stroke="#262626" stroke-width="1.2"/>
</svg></body></html>
